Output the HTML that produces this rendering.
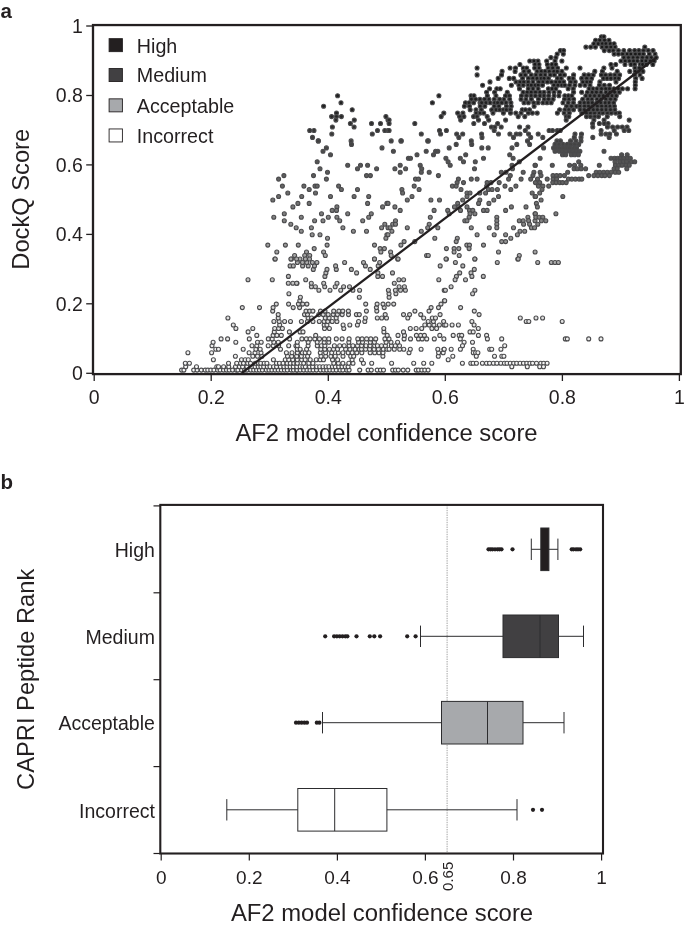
<!DOCTYPE html><html><head><meta charset="utf-8"><title>chart</title><style>html,body{margin:0;padding:0;background:#fff}svg{display:block;filter:blur(0.35px)}text{font-family:"Liberation Sans",sans-serif;fill:#231f20}</style></head><body>
<svg width="685" height="929" viewBox="0 0 685 929">
<rect width="685" height="929" fill="#fff"/>
<text x="0.5" y="17.8" font-size="20.5" font-weight="bold">a</text>
<text x="0.5" y="488.5" font-size="20.5" font-weight="bold">b</text>
<g stroke="#4a4a4c" stroke-width="1.1">
<circle cx="337.6" cy="95.8" r="2.00" fill="#1e1e1e"/>
<circle cx="341.0" cy="102.7" r="2.00" fill="#202020"/>
<circle cx="323.6" cy="106.2" r="2.00" fill="#202020"/>
<circle cx="352.2" cy="109.7" r="2.00" fill="#212121"/>
<circle cx="336.5" cy="113.1" r="2.00" fill="#222222"/>
<circle cx="331.6" cy="116.6" r="2.00" fill="#262626"/>
<circle cx="336.5" cy="116.6" r="2.00" fill="#262626"/>
<circle cx="341.4" cy="116.6" r="2.00" fill="#262626"/>
<circle cx="335.9" cy="120.1" r="2.00" fill="#2a2a2a"/>
<circle cx="354.3" cy="120.1" r="2.00" fill="#2a2a2a"/>
<circle cx="350.4" cy="123.5" r="2.00" fill="#2d2d2d"/>
<circle cx="354.1" cy="127.0" r="2.00" fill="#313131"/>
<circle cx="332.4" cy="127.0" r="2.00" fill="#313131"/>
<circle cx="309.7" cy="130.5" r="2.00" fill="#353535"/>
<circle cx="314.0" cy="130.5" r="2.00" fill="#353535"/>
<circle cx="331.8" cy="134.0" r="2.00" fill="#393939"/>
<circle cx="312.5" cy="137.4" r="2.00" fill="#3d3d3d"/>
<circle cx="318.3" cy="140.9" r="2.00" fill="#414141"/>
<circle cx="351.1" cy="140.9" r="2.00" fill="#414141"/>
<circle cx="371.5" cy="123.5" r="2.00" fill="#2d2d2d"/>
<circle cx="380.5" cy="123.5" r="2.00" fill="#2d2d2d"/>
<circle cx="385.9" cy="116.6" r="2.00" fill="#262626"/>
<circle cx="388.0" cy="120.1" r="2.00" fill="#2a2a2a"/>
<circle cx="377.5" cy="130.5" r="2.00" fill="#353535"/>
<circle cx="372.3" cy="134.0" r="2.00" fill="#393939"/>
<circle cx="384.8" cy="130.5" r="2.00" fill="#353535"/>
<circle cx="388.0" cy="130.5" r="2.00" fill="#353535"/>
<circle cx="477.1" cy="68.0" r="2.00" fill="#1a1a1a"/>
<circle cx="477.1" cy="74.9" r="2.00" fill="#1a1a1a"/>
<circle cx="438.9" cy="95.8" r="2.00" fill="#1e1e1e"/>
<circle cx="432.4" cy="102.7" r="2.00" fill="#202020"/>
<circle cx="443.8" cy="113.1" r="2.00" fill="#222222"/>
<circle cx="441.2" cy="116.6" r="2.00" fill="#262626"/>
<circle cx="414.8" cy="123.5" r="2.00" fill="#2d2d2d"/>
<circle cx="421.3" cy="134.0" r="2.00" fill="#393939"/>
<circle cx="439.5" cy="130.5" r="2.00" fill="#353535"/>
<circle cx="446.4" cy="130.5" r="2.00" fill="#353535"/>
<circle cx="440.6" cy="134.0" r="2.00" fill="#393939"/>
<circle cx="389.1" cy="120.1" r="2.00" fill="#2a2a2a"/>
<circle cx="389.1" cy="123.5" r="2.00" fill="#2d2d2d"/>
<circle cx="389.1" cy="130.5" r="2.00" fill="#353535"/>
<circle cx="391.2" cy="140.9" r="2.00" fill="#414141"/>
<circle cx="400.9" cy="140.9" r="2.00" fill="#414141"/>
<circle cx="428.3" cy="140.9" r="2.00" fill="#414141"/>
<circle cx="456.7" cy="134.0" r="2.00" fill="#393939"/>
<circle cx="462.7" cy="134.0" r="2.00" fill="#393939"/>
<circle cx="458.8" cy="137.4" r="2.00" fill="#3d3d3d"/>
<circle cx="471.3" cy="140.9" r="2.00" fill="#414141"/>
<circle cx="481.6" cy="134.0" r="2.00" fill="#393939"/>
<circle cx="482.0" cy="137.4" r="2.00" fill="#3d3d3d"/>
<circle cx="494.2" cy="130.5" r="2.00" fill="#353535"/>
<circle cx="498.5" cy="134.0" r="2.00" fill="#393939"/>
<circle cx="509.9" cy="134.0" r="2.00" fill="#393939"/>
<circle cx="513.5" cy="137.4" r="2.00" fill="#3d3d3d"/>
<circle cx="516.3" cy="134.0" r="2.00" fill="#393939"/>
<circle cx="520.0" cy="134.0" r="2.00" fill="#393939"/>
<circle cx="525.3" cy="130.5" r="2.00" fill="#353535"/>
<circle cx="528.6" cy="134.0" r="2.00" fill="#393939"/>
<circle cx="530.7" cy="137.4" r="2.00" fill="#3d3d3d"/>
<circle cx="527.5" cy="140.9" r="2.00" fill="#414141"/>
<circle cx="471.0" cy="95.8" r="2.00" fill="#1e1e1e"/>
<circle cx="474.0" cy="95.8" r="2.00" fill="#1e1e1e"/>
<circle cx="471.4" cy="99.2" r="2.00" fill="#1f1f1f"/>
<circle cx="475.6" cy="99.2" r="2.00" fill="#1f1f1f"/>
<circle cx="465.5" cy="102.7" r="2.00" fill="#202020"/>
<circle cx="469.1" cy="102.7" r="2.00" fill="#202020"/>
<circle cx="473.6" cy="102.7" r="2.00" fill="#202020"/>
<circle cx="480.0" cy="102.7" r="2.00" fill="#202020"/>
<circle cx="464.4" cy="106.2" r="2.00" fill="#202020"/>
<circle cx="469.5" cy="106.2" r="2.00" fill="#202020"/>
<circle cx="470.2" cy="109.7" r="2.00" fill="#212121"/>
<circle cx="476.0" cy="109.7" r="2.00" fill="#212121"/>
<circle cx="457.7" cy="113.1" r="2.00" fill="#222222"/>
<circle cx="462.9" cy="113.1" r="2.00" fill="#222222"/>
<circle cx="476.1" cy="113.1" r="2.00" fill="#222222"/>
<circle cx="459.6" cy="116.6" r="2.00" fill="#262626"/>
<circle cx="463.9" cy="116.6" r="2.00" fill="#262626"/>
<circle cx="473.6" cy="116.6" r="2.00" fill="#262626"/>
<circle cx="477.1" cy="116.6" r="2.00" fill="#262626"/>
<circle cx="460.7" cy="120.1" r="2.00" fill="#2a2a2a"/>
<circle cx="478.5" cy="120.1" r="2.00" fill="#2a2a2a"/>
<circle cx="473.8" cy="123.5" r="2.00" fill="#2d2d2d"/>
<circle cx="560.4" cy="50.6" r="2.00" fill="#191919"/>
<circle cx="563.6" cy="50.6" r="2.00" fill="#191919"/>
<circle cx="581.8" cy="113.1" r="2.00" fill="#222222"/>
<circle cx="586.5" cy="113.1" r="2.00" fill="#222222"/>
<circle cx="590.4" cy="113.1" r="2.00" fill="#222222"/>
<circle cx="594.5" cy="113.1" r="2.00" fill="#222222"/>
<circle cx="599.1" cy="113.1" r="2.00" fill="#222222"/>
<circle cx="602.7" cy="113.1" r="2.00" fill="#222222"/>
<circle cx="607.4" cy="113.1" r="2.00" fill="#222222"/>
<circle cx="611.3" cy="113.1" r="2.00" fill="#222222"/>
<circle cx="615.7" cy="113.1" r="2.00" fill="#222222"/>
<circle cx="619.3" cy="113.1" r="2.00" fill="#222222"/>
<circle cx="586.5" cy="116.6" r="2.00" fill="#262626"/>
<circle cx="590.4" cy="116.6" r="2.00" fill="#262626"/>
<circle cx="594.7" cy="116.6" r="2.00" fill="#262626"/>
<circle cx="598.5" cy="116.6" r="2.00" fill="#262626"/>
<circle cx="607.3" cy="116.6" r="2.00" fill="#262626"/>
<circle cx="619.7" cy="116.6" r="2.00" fill="#262626"/>
<circle cx="593.9" cy="120.1" r="2.00" fill="#2a2a2a"/>
<circle cx="604.1" cy="120.1" r="2.00" fill="#2a2a2a"/>
<circle cx="629.2" cy="120.1" r="2.00" fill="#2a2a2a"/>
<circle cx="592.6" cy="123.5" r="2.00" fill="#2d2d2d"/>
<circle cx="599.4" cy="123.5" r="2.00" fill="#2d2d2d"/>
<circle cx="604.4" cy="123.5" r="2.00" fill="#2d2d2d"/>
<circle cx="608.1" cy="123.5" r="2.00" fill="#2d2d2d"/>
<circle cx="592.8" cy="127.0" r="2.00" fill="#313131"/>
<circle cx="607.5" cy="127.0" r="2.00" fill="#313131"/>
<circle cx="612.6" cy="127.0" r="2.00" fill="#313131"/>
<circle cx="617.6" cy="127.0" r="2.00" fill="#313131"/>
<circle cx="622.3" cy="127.0" r="2.00" fill="#313131"/>
<circle cx="627.1" cy="127.0" r="2.00" fill="#313131"/>
<circle cx="549.1" cy="130.5" r="2.00" fill="#353535"/>
<circle cx="552.5" cy="130.5" r="2.00" fill="#353535"/>
<circle cx="557.3" cy="130.5" r="2.00" fill="#353535"/>
<circle cx="560.3" cy="130.5" r="2.00" fill="#353535"/>
<circle cx="601.1" cy="130.5" r="2.00" fill="#353535"/>
<circle cx="614.2" cy="130.5" r="2.00" fill="#353535"/>
<circle cx="624.2" cy="130.5" r="2.00" fill="#353535"/>
<circle cx="628.8" cy="130.5" r="2.00" fill="#353535"/>
<circle cx="538.2" cy="134.0" r="2.00" fill="#393939"/>
<circle cx="575.0" cy="134.0" r="2.00" fill="#393939"/>
<circle cx="581.5" cy="134.0" r="2.00" fill="#393939"/>
<circle cx="601.1" cy="134.0" r="2.00" fill="#393939"/>
<circle cx="605.9" cy="134.0" r="2.00" fill="#393939"/>
<circle cx="609.7" cy="134.0" r="2.00" fill="#393939"/>
<circle cx="616.4" cy="134.0" r="2.00" fill="#393939"/>
<circle cx="542.8" cy="137.4" r="2.00" fill="#3d3d3d"/>
<circle cx="574.3" cy="137.4" r="2.00" fill="#3d3d3d"/>
<circle cx="581.0" cy="137.4" r="2.00" fill="#3d3d3d"/>
<circle cx="592.8" cy="137.4" r="2.00" fill="#3d3d3d"/>
<circle cx="609.2" cy="137.4" r="2.00" fill="#3d3d3d"/>
<circle cx="556.9" cy="140.9" r="2.00" fill="#414141"/>
<circle cx="560.4" cy="140.9" r="2.00" fill="#414141"/>
<circle cx="570.6" cy="140.9" r="2.00" fill="#414141"/>
<circle cx="575.8" cy="140.9" r="2.00" fill="#414141"/>
<circle cx="581.0" cy="140.9" r="2.00" fill="#414141"/>
<circle cx="318.3" cy="140.9" r="2.00" fill="#414141"/>
<circle cx="326.4" cy="147.9" r="2.00" fill="#484848"/>
<circle cx="323.0" cy="151.3" r="2.00" fill="#4c4c4c"/>
<circle cx="330.5" cy="154.8" r="2.00" fill="#4f4f4f"/>
<circle cx="351.5" cy="144.4" r="2.00" fill="#444444"/>
<circle cx="382.0" cy="147.9" r="2.00" fill="#484848"/>
<circle cx="317.2" cy="161.7" r="2.00" fill="#545454"/>
<circle cx="320.0" cy="168.7" r="2.00" fill="#595959"/>
<circle cx="327.5" cy="172.2" r="2.00" fill="#5b5b5b"/>
<circle cx="313.5" cy="175.6" r="2.00" fill="#5e5e5e"/>
<circle cx="326.4" cy="179.1" r="2.00" fill="#616161"/>
<circle cx="347.7" cy="165.2" r="2.00" fill="#565656"/>
<circle cx="360.5" cy="165.2" r="2.00" fill="#565656"/>
<circle cx="357.5" cy="168.7" r="2.00" fill="#595959"/>
<circle cx="367.6" cy="165.2" r="2.00" fill="#565656"/>
<circle cx="376.6" cy="168.7" r="2.00" fill="#595959"/>
<circle cx="366.5" cy="175.6" r="2.00" fill="#5e5e5e"/>
<circle cx="370.4" cy="175.6" r="2.00" fill="#5e5e5e"/>
<circle cx="283.9" cy="175.6" r="2.00" fill="#5e5e5e"/>
<circle cx="278.6" cy="179.1" r="2.00" fill="#616161"/>
<circle cx="282.4" cy="186.1" r="2.00" fill="#666666"/>
<circle cx="287.8" cy="193.0" r="2.00" fill="#6b6b6b"/>
<circle cx="278.6" cy="196.5" r="2.00" fill="#6d6d6d"/>
<circle cx="272.8" cy="200.0" r="2.00" fill="#707070"/>
<circle cx="303.9" cy="186.1" r="2.00" fill="#666666"/>
<circle cx="309.2" cy="189.5" r="2.00" fill="#686868"/>
<circle cx="315.0" cy="186.1" r="2.00" fill="#666666"/>
<circle cx="317.2" cy="186.1" r="2.00" fill="#666666"/>
<circle cx="315.5" cy="193.0" r="2.00" fill="#6b6b6b"/>
<circle cx="301.7" cy="196.5" r="2.00" fill="#6d6d6d"/>
<circle cx="297.9" cy="203.4" r="2.00" fill="#737373"/>
<circle cx="292.9" cy="206.9" r="2.00" fill="#767676"/>
<circle cx="309.2" cy="203.4" r="2.00" fill="#737373"/>
<circle cx="338.6" cy="186.1" r="2.00" fill="#666666"/>
<circle cx="341.4" cy="189.5" r="2.00" fill="#686868"/>
<circle cx="357.5" cy="189.5" r="2.00" fill="#686868"/>
<circle cx="330.5" cy="196.5" r="2.00" fill="#6d6d6d"/>
<circle cx="354.1" cy="196.5" r="2.00" fill="#6d6d6d"/>
<circle cx="368.7" cy="196.5" r="2.00" fill="#6d6d6d"/>
<circle cx="367.6" cy="203.4" r="2.00" fill="#737373"/>
<circle cx="386.9" cy="203.4" r="2.00" fill="#737373"/>
<circle cx="382.6" cy="206.9" r="2.00" fill="#767676"/>
<circle cx="336.9" cy="206.9" r="2.00" fill="#767676"/>
<circle cx="332.2" cy="210.4" r="2.00" fill="#7a7a7a"/>
<circle cx="336.5" cy="210.4" r="2.00" fill="#7a7a7a"/>
<circle cx="347.7" cy="213.8" r="2.00" fill="#7d7d7d"/>
<circle cx="371.3" cy="213.8" r="2.00" fill="#7d7d7d"/>
<circle cx="368.7" cy="217.3" r="2.00" fill="#808080"/>
<circle cx="362.7" cy="220.8" r="2.00" fill="#838383"/>
<circle cx="321.5" cy="213.8" r="2.00" fill="#7d7d7d"/>
<circle cx="328.3" cy="217.3" r="2.00" fill="#808080"/>
<circle cx="336.9" cy="217.3" r="2.00" fill="#808080"/>
<circle cx="339.7" cy="220.8" r="2.00" fill="#838383"/>
<circle cx="314.6" cy="220.8" r="2.00" fill="#838383"/>
<circle cx="323.0" cy="220.8" r="2.00" fill="#838383"/>
<circle cx="284.3" cy="213.8" r="2.00" fill="#7d7d7d"/>
<circle cx="273.8" cy="217.3" r="2.00" fill="#808080"/>
<circle cx="284.3" cy="220.8" r="2.00" fill="#838383"/>
<circle cx="301.3" cy="217.3" r="2.00" fill="#808080"/>
<circle cx="290.8" cy="224.3" r="2.00" fill="#868686"/>
<circle cx="296.2" cy="227.7" r="2.00" fill="#898989"/>
<circle cx="301.3" cy="231.2" r="2.00" fill="#8c8c8c"/>
<circle cx="311.4" cy="227.7" r="2.00" fill="#898989"/>
<circle cx="312.2" cy="234.7" r="2.00" fill="#909090"/>
<circle cx="320.0" cy="234.7" r="2.00" fill="#909090"/>
<circle cx="327.5" cy="238.2" r="2.00" fill="#939393"/>
<circle cx="342.9" cy="227.7" r="2.00" fill="#898989"/>
<circle cx="353.4" cy="231.2" r="2.00" fill="#8c8c8c"/>
<circle cx="366.5" cy="231.2" r="2.00" fill="#8c8c8c"/>
<circle cx="384.8" cy="224.3" r="2.00" fill="#868686"/>
<circle cx="381.6" cy="227.7" r="2.00" fill="#898989"/>
<circle cx="388.0" cy="227.7" r="2.00" fill="#898989"/>
<circle cx="386.9" cy="234.7" r="2.00" fill="#909090"/>
<circle cx="385.9" cy="238.2" r="2.00" fill="#939393"/>
<circle cx="267.8" cy="245.1" r="2.00" fill="#9a9a9a"/>
<circle cx="285.4" cy="245.1" r="2.00" fill="#9a9a9a"/>
<circle cx="298.3" cy="245.1" r="2.00" fill="#9a9a9a"/>
<circle cx="327.1" cy="245.1" r="2.00" fill="#9a9a9a"/>
<circle cx="314.2" cy="248.6" r="2.00" fill="#9e9e9e"/>
<circle cx="374.5" cy="245.1" r="2.00" fill="#9a9a9a"/>
<circle cx="380.1" cy="248.6" r="2.00" fill="#9e9e9e"/>
<circle cx="384.4" cy="248.6" r="2.00" fill="#9e9e9e"/>
<circle cx="380.9" cy="252.0" r="2.00" fill="#a2a2a2"/>
<circle cx="276.8" cy="252.0" r="2.00" fill="#a2a2a2"/>
<circle cx="306.5" cy="252.0" r="2.00" fill="#a2a2a2"/>
<circle cx="323.6" cy="252.0" r="2.00" fill="#a2a2a2"/>
<circle cx="294.6" cy="255.5" r="2.00" fill="#a6a6a6"/>
<circle cx="304.7" cy="255.5" r="2.00" fill="#a6a6a6"/>
<circle cx="309.7" cy="255.5" r="2.00" fill="#a6a6a6"/>
<circle cx="325.3" cy="255.5" r="2.00" fill="#a6a6a6"/>
<circle cx="274.9" cy="259.0" r="2.00" fill="#aaaaaa"/>
<circle cx="291.4" cy="259.0" r="2.00" fill="#aaaaaa"/>
<circle cx="300.0" cy="259.0" r="2.00" fill="#aaaaaa"/>
<circle cx="374.5" cy="259.0" r="2.00" fill="#aaaaaa"/>
<circle cx="401.3" cy="140.9" r="2.00" fill="#414141"/>
<circle cx="427.7" cy="140.9" r="2.00" fill="#414141"/>
<circle cx="456.2" cy="144.4" r="2.00" fill="#444444"/>
<circle cx="471.7" cy="144.4" r="2.00" fill="#444444"/>
<circle cx="516.8" cy="144.4" r="2.00" fill="#444444"/>
<circle cx="529.6" cy="144.4" r="2.00" fill="#444444"/>
<circle cx="449.2" cy="147.9" r="2.00" fill="#484848"/>
<circle cx="481.8" cy="147.9" r="2.00" fill="#484848"/>
<circle cx="488.2" cy="147.9" r="2.00" fill="#484848"/>
<circle cx="512.0" cy="147.9" r="2.00" fill="#484848"/>
<circle cx="393.4" cy="151.3" r="2.00" fill="#4c4c4c"/>
<circle cx="426.2" cy="151.3" r="2.00" fill="#4c4c4c"/>
<circle cx="435.6" cy="151.3" r="2.00" fill="#4c4c4c"/>
<circle cx="437.8" cy="151.3" r="2.00" fill="#4c4c4c"/>
<circle cx="417.0" cy="154.8" r="2.00" fill="#4f4f4f"/>
<circle cx="433.5" cy="154.8" r="2.00" fill="#4f4f4f"/>
<circle cx="465.7" cy="154.8" r="2.00" fill="#4f4f4f"/>
<circle cx="509.7" cy="154.8" r="2.00" fill="#4f4f4f"/>
<circle cx="408.4" cy="158.3" r="2.00" fill="#515151"/>
<circle cx="410.5" cy="158.3" r="2.00" fill="#515151"/>
<circle cx="445.9" cy="158.3" r="2.00" fill="#515151"/>
<circle cx="460.3" cy="158.3" r="2.00" fill="#515151"/>
<circle cx="483.5" cy="158.3" r="2.00" fill="#515151"/>
<circle cx="513.1" cy="158.3" r="2.00" fill="#515151"/>
<circle cx="448.1" cy="161.7" r="2.00" fill="#545454"/>
<circle cx="463.5" cy="161.7" r="2.00" fill="#545454"/>
<circle cx="475.3" cy="161.7" r="2.00" fill="#545454"/>
<circle cx="519.3" cy="161.7" r="2.00" fill="#545454"/>
<circle cx="400.2" cy="165.2" r="2.00" fill="#565656"/>
<circle cx="420.2" cy="165.2" r="2.00" fill="#565656"/>
<circle cx="450.2" cy="165.2" r="2.00" fill="#565656"/>
<circle cx="512.0" cy="165.2" r="2.00" fill="#565656"/>
<circle cx="535.0" cy="165.2" r="2.00" fill="#565656"/>
<circle cx="394.9" cy="168.7" r="2.00" fill="#595959"/>
<circle cx="405.6" cy="168.7" r="2.00" fill="#595959"/>
<circle cx="421.7" cy="168.7" r="2.00" fill="#595959"/>
<circle cx="474.5" cy="168.7" r="2.00" fill="#595959"/>
<circle cx="512.5" cy="168.7" r="2.00" fill="#595959"/>
<circle cx="400.2" cy="172.2" r="2.00" fill="#5b5b5b"/>
<circle cx="421.3" cy="172.2" r="2.00" fill="#5b5b5b"/>
<circle cx="429.2" cy="172.2" r="2.00" fill="#5b5b5b"/>
<circle cx="501.3" cy="172.2" r="2.00" fill="#5b5b5b"/>
<circle cx="506.0" cy="172.2" r="2.00" fill="#5b5b5b"/>
<circle cx="523.2" cy="172.2" r="2.00" fill="#5b5b5b"/>
<circle cx="533.9" cy="172.2" r="2.00" fill="#5b5b5b"/>
<circle cx="438.4" cy="175.6" r="2.00" fill="#5e5e5e"/>
<circle cx="510.3" cy="175.6" r="2.00" fill="#5e5e5e"/>
<circle cx="532.9" cy="175.6" r="2.00" fill="#5e5e5e"/>
<circle cx="415.5" cy="179.1" r="2.00" fill="#616161"/>
<circle cx="418.5" cy="179.1" r="2.00" fill="#616161"/>
<circle cx="458.4" cy="179.1" r="2.00" fill="#616161"/>
<circle cx="471.3" cy="179.1" r="2.00" fill="#616161"/>
<circle cx="477.1" cy="179.1" r="2.00" fill="#616161"/>
<circle cx="508.6" cy="179.1" r="2.00" fill="#616161"/>
<circle cx="521.1" cy="179.1" r="2.00" fill="#616161"/>
<circle cx="530.7" cy="179.1" r="2.00" fill="#616161"/>
<circle cx="457.1" cy="182.6" r="2.00" fill="#636363"/>
<circle cx="463.5" cy="182.6" r="2.00" fill="#636363"/>
<circle cx="487.1" cy="182.6" r="2.00" fill="#636363"/>
<circle cx="491.0" cy="182.6" r="2.00" fill="#636363"/>
<circle cx="499.2" cy="182.6" r="2.00" fill="#636363"/>
<circle cx="414.2" cy="186.1" r="2.00" fill="#666666"/>
<circle cx="452.4" cy="186.1" r="2.00" fill="#666666"/>
<circle cx="456.2" cy="186.1" r="2.00" fill="#666666"/>
<circle cx="486.7" cy="186.1" r="2.00" fill="#666666"/>
<circle cx="505.0" cy="186.1" r="2.00" fill="#666666"/>
<circle cx="515.9" cy="186.1" r="2.00" fill="#666666"/>
<circle cx="401.9" cy="189.5" r="2.00" fill="#686868"/>
<circle cx="419.1" cy="189.5" r="2.00" fill="#686868"/>
<circle cx="461.0" cy="189.5" r="2.00" fill="#686868"/>
<circle cx="488.4" cy="189.5" r="2.00" fill="#686868"/>
<circle cx="492.1" cy="189.5" r="2.00" fill="#686868"/>
<circle cx="497.4" cy="189.5" r="2.00" fill="#686868"/>
<circle cx="510.8" cy="189.5" r="2.00" fill="#686868"/>
<circle cx="402.6" cy="193.0" r="2.00" fill="#6b6b6b"/>
<circle cx="467.0" cy="193.0" r="2.00" fill="#6b6b6b"/>
<circle cx="470.0" cy="193.0" r="2.00" fill="#6b6b6b"/>
<circle cx="479.8" cy="193.0" r="2.00" fill="#6b6b6b"/>
<circle cx="485.6" cy="193.0" r="2.00" fill="#6b6b6b"/>
<circle cx="532.2" cy="193.0" r="2.00" fill="#6b6b6b"/>
<circle cx="412.0" cy="196.5" r="2.00" fill="#6d6d6d"/>
<circle cx="467.0" cy="196.5" r="2.00" fill="#6d6d6d"/>
<circle cx="498.5" cy="196.5" r="2.00" fill="#6d6d6d"/>
<circle cx="535.0" cy="196.5" r="2.00" fill="#6d6d6d"/>
<circle cx="407.3" cy="200.0" r="2.00" fill="#707070"/>
<circle cx="430.9" cy="200.0" r="2.00" fill="#707070"/>
<circle cx="439.5" cy="200.0" r="2.00" fill="#707070"/>
<circle cx="462.7" cy="200.0" r="2.00" fill="#707070"/>
<circle cx="479.8" cy="200.0" r="2.00" fill="#707070"/>
<circle cx="493.8" cy="200.0" r="2.00" fill="#707070"/>
<circle cx="388.0" cy="203.4" r="2.00" fill="#737373"/>
<circle cx="457.7" cy="203.4" r="2.00" fill="#737373"/>
<circle cx="478.6" cy="203.4" r="2.00" fill="#737373"/>
<circle cx="488.9" cy="203.4" r="2.00" fill="#737373"/>
<circle cx="394.9" cy="206.9" r="2.00" fill="#767676"/>
<circle cx="454.5" cy="206.9" r="2.00" fill="#767676"/>
<circle cx="458.8" cy="206.9" r="2.00" fill="#767676"/>
<circle cx="467.0" cy="206.9" r="2.00" fill="#767676"/>
<circle cx="511.4" cy="206.9" r="2.00" fill="#767676"/>
<circle cx="526.0" cy="206.9" r="2.00" fill="#767676"/>
<circle cx="400.2" cy="210.4" r="2.00" fill="#7a7a7a"/>
<circle cx="434.1" cy="210.4" r="2.00" fill="#7a7a7a"/>
<circle cx="447.7" cy="210.4" r="2.00" fill="#7a7a7a"/>
<circle cx="460.5" cy="210.4" r="2.00" fill="#7a7a7a"/>
<circle cx="469.5" cy="210.4" r="2.00" fill="#7a7a7a"/>
<circle cx="472.8" cy="210.4" r="2.00" fill="#7a7a7a"/>
<circle cx="483.5" cy="210.4" r="2.00" fill="#7a7a7a"/>
<circle cx="487.1" cy="210.4" r="2.00" fill="#7a7a7a"/>
<circle cx="505.6" cy="210.4" r="2.00" fill="#7a7a7a"/>
<circle cx="449.2" cy="213.8" r="2.00" fill="#7d7d7d"/>
<circle cx="470.0" cy="213.8" r="2.00" fill="#7d7d7d"/>
<circle cx="474.9" cy="213.8" r="2.00" fill="#7d7d7d"/>
<circle cx="535.0" cy="213.8" r="2.00" fill="#7d7d7d"/>
<circle cx="430.3" cy="217.3" r="2.00" fill="#808080"/>
<circle cx="469.1" cy="217.3" r="2.00" fill="#808080"/>
<circle cx="496.8" cy="217.3" r="2.00" fill="#808080"/>
<circle cx="527.9" cy="217.3" r="2.00" fill="#808080"/>
<circle cx="395.5" cy="220.8" r="2.00" fill="#838383"/>
<circle cx="464.8" cy="220.8" r="2.00" fill="#838383"/>
<circle cx="467.0" cy="220.8" r="2.00" fill="#838383"/>
<circle cx="496.8" cy="220.8" r="2.00" fill="#838383"/>
<circle cx="519.3" cy="220.8" r="2.00" fill="#838383"/>
<circle cx="523.2" cy="220.8" r="2.00" fill="#838383"/>
<circle cx="528.6" cy="220.8" r="2.00" fill="#838383"/>
<circle cx="535.0" cy="220.8" r="2.00" fill="#838383"/>
<circle cx="392.7" cy="224.3" r="2.00" fill="#868686"/>
<circle cx="395.5" cy="224.3" r="2.00" fill="#868686"/>
<circle cx="429.2" cy="224.3" r="2.00" fill="#868686"/>
<circle cx="496.8" cy="224.3" r="2.00" fill="#868686"/>
<circle cx="523.6" cy="224.3" r="2.00" fill="#868686"/>
<circle cx="529.6" cy="224.3" r="2.00" fill="#868686"/>
<circle cx="390.1" cy="227.7" r="2.00" fill="#898989"/>
<circle cx="407.3" cy="227.7" r="2.00" fill="#898989"/>
<circle cx="427.7" cy="227.7" r="2.00" fill="#898989"/>
<circle cx="437.8" cy="227.7" r="2.00" fill="#898989"/>
<circle cx="471.3" cy="227.7" r="2.00" fill="#898989"/>
<circle cx="489.3" cy="227.7" r="2.00" fill="#898989"/>
<circle cx="496.8" cy="227.7" r="2.00" fill="#898989"/>
<circle cx="513.5" cy="227.7" r="2.00" fill="#898989"/>
<circle cx="531.4" cy="227.7" r="2.00" fill="#898989"/>
<circle cx="391.9" cy="231.2" r="2.00" fill="#8c8c8c"/>
<circle cx="421.3" cy="231.2" r="2.00" fill="#8c8c8c"/>
<circle cx="520.0" cy="231.2" r="2.00" fill="#8c8c8c"/>
<circle cx="524.7" cy="231.2" r="2.00" fill="#8c8c8c"/>
<circle cx="388.0" cy="234.7" r="2.00" fill="#909090"/>
<circle cx="477.1" cy="234.7" r="2.00" fill="#909090"/>
<circle cx="494.2" cy="234.7" r="2.00" fill="#909090"/>
<circle cx="505.6" cy="234.7" r="2.00" fill="#909090"/>
<circle cx="517.4" cy="234.7" r="2.00" fill="#909090"/>
<circle cx="434.8" cy="238.2" r="2.00" fill="#939393"/>
<circle cx="457.3" cy="238.2" r="2.00" fill="#939393"/>
<circle cx="510.8" cy="238.2" r="2.00" fill="#939393"/>
<circle cx="404.1" cy="241.6" r="2.00" fill="#969696"/>
<circle cx="414.8" cy="241.6" r="2.00" fill="#969696"/>
<circle cx="456.2" cy="241.6" r="2.00" fill="#969696"/>
<circle cx="501.7" cy="241.6" r="2.00" fill="#969696"/>
<circle cx="505.6" cy="241.6" r="2.00" fill="#969696"/>
<circle cx="400.9" cy="245.1" r="2.00" fill="#9a9a9a"/>
<circle cx="466.8" cy="245.1" r="2.00" fill="#9a9a9a"/>
<circle cx="469.5" cy="245.1" r="2.00" fill="#9a9a9a"/>
<circle cx="483.5" cy="245.1" r="2.00" fill="#9a9a9a"/>
<circle cx="446.4" cy="248.6" r="2.00" fill="#9e9e9e"/>
<circle cx="454.1" cy="248.6" r="2.00" fill="#9e9e9e"/>
<circle cx="458.8" cy="248.6" r="2.00" fill="#9e9e9e"/>
<circle cx="469.1" cy="248.6" r="2.00" fill="#9e9e9e"/>
<circle cx="390.6" cy="252.0" r="2.00" fill="#a2a2a2"/>
<circle cx="454.1" cy="252.0" r="2.00" fill="#a2a2a2"/>
<circle cx="498.5" cy="252.0" r="2.00" fill="#a2a2a2"/>
<circle cx="391.2" cy="255.5" r="2.00" fill="#a6a6a6"/>
<circle cx="426.6" cy="255.5" r="2.00" fill="#a6a6a6"/>
<circle cx="428.3" cy="255.5" r="2.00" fill="#a6a6a6"/>
<circle cx="459.2" cy="255.5" r="2.00" fill="#a6a6a6"/>
<circle cx="519.3" cy="255.5" r="2.00" fill="#a6a6a6"/>
<circle cx="397.7" cy="259.0" r="2.00" fill="#aaaaaa"/>
<circle cx="446.4" cy="259.0" r="2.00" fill="#aaaaaa"/>
<circle cx="474.9" cy="259.0" r="2.00" fill="#aaaaaa"/>
<circle cx="517.8" cy="259.0" r="2.00" fill="#aaaaaa"/>
<circle cx="555.0" cy="144.4" r="2.00" fill="#444444"/>
<circle cx="558.9" cy="144.4" r="2.00" fill="#444444"/>
<circle cx="563.0" cy="144.4" r="2.00" fill="#444444"/>
<circle cx="567.3" cy="144.4" r="2.00" fill="#444444"/>
<circle cx="570.6" cy="144.4" r="2.00" fill="#444444"/>
<circle cx="574.5" cy="144.4" r="2.00" fill="#444444"/>
<circle cx="578.7" cy="144.4" r="2.00" fill="#444444"/>
<circle cx="543.6" cy="147.9" r="2.00" fill="#484848"/>
<circle cx="553.6" cy="147.9" r="2.00" fill="#484848"/>
<circle cx="556.9" cy="147.9" r="2.00" fill="#484848"/>
<circle cx="559.7" cy="147.9" r="2.00" fill="#484848"/>
<circle cx="563.5" cy="147.9" r="2.00" fill="#484848"/>
<circle cx="567.1" cy="147.9" r="2.00" fill="#484848"/>
<circle cx="569.7" cy="147.9" r="2.00" fill="#484848"/>
<circle cx="573.6" cy="147.9" r="2.00" fill="#484848"/>
<circle cx="576.5" cy="147.9" r="2.00" fill="#484848"/>
<circle cx="555.0" cy="151.3" r="2.00" fill="#4c4c4c"/>
<circle cx="559.3" cy="151.3" r="2.00" fill="#4c4c4c"/>
<circle cx="562.3" cy="151.3" r="2.00" fill="#4c4c4c"/>
<circle cx="566.0" cy="151.3" r="2.00" fill="#4c4c4c"/>
<circle cx="569.8" cy="151.3" r="2.00" fill="#4c4c4c"/>
<circle cx="572.9" cy="151.3" r="2.00" fill="#4c4c4c"/>
<circle cx="576.5" cy="151.3" r="2.00" fill="#4c4c4c"/>
<circle cx="579.9" cy="151.3" r="2.00" fill="#4c4c4c"/>
<circle cx="604.0" cy="151.3" r="2.00" fill="#4c4c4c"/>
<circle cx="562.5" cy="154.8" r="2.00" fill="#4f4f4f"/>
<circle cx="565.7" cy="154.8" r="2.00" fill="#4f4f4f"/>
<circle cx="571.3" cy="154.8" r="2.00" fill="#4f4f4f"/>
<circle cx="574.7" cy="154.8" r="2.00" fill="#4f4f4f"/>
<circle cx="578.4" cy="154.8" r="2.00" fill="#4f4f4f"/>
<circle cx="621.6" cy="154.8" r="2.00" fill="#4f4f4f"/>
<circle cx="627.2" cy="154.8" r="2.00" fill="#4f4f4f"/>
<circle cx="540.1" cy="158.3" r="2.00" fill="#515151"/>
<circle cx="611.0" cy="158.3" r="2.00" fill="#515151"/>
<circle cx="614.6" cy="158.3" r="2.00" fill="#515151"/>
<circle cx="617.7" cy="158.3" r="2.00" fill="#515151"/>
<circle cx="620.5" cy="158.3" r="2.00" fill="#515151"/>
<circle cx="623.8" cy="158.3" r="2.00" fill="#515151"/>
<circle cx="627.4" cy="158.3" r="2.00" fill="#515151"/>
<circle cx="630.3" cy="158.3" r="2.00" fill="#515151"/>
<circle cx="578.7" cy="161.7" r="2.00" fill="#545454"/>
<circle cx="615.0" cy="161.7" r="2.00" fill="#545454"/>
<circle cx="619.7" cy="161.7" r="2.00" fill="#545454"/>
<circle cx="623.4" cy="161.7" r="2.00" fill="#545454"/>
<circle cx="626.6" cy="161.7" r="2.00" fill="#545454"/>
<circle cx="631.4" cy="161.7" r="2.00" fill="#545454"/>
<circle cx="634.7" cy="161.7" r="2.00" fill="#545454"/>
<circle cx="535.4" cy="165.2" r="2.00" fill="#565656"/>
<circle cx="552.3" cy="165.2" r="2.00" fill="#565656"/>
<circle cx="569.6" cy="165.2" r="2.00" fill="#565656"/>
<circle cx="574.5" cy="165.2" r="2.00" fill="#565656"/>
<circle cx="580.8" cy="165.2" r="2.00" fill="#565656"/>
<circle cx="599.3" cy="165.2" r="2.00" fill="#565656"/>
<circle cx="615.4" cy="165.2" r="2.00" fill="#565656"/>
<circle cx="618.8" cy="165.2" r="2.00" fill="#565656"/>
<circle cx="622.0" cy="165.2" r="2.00" fill="#565656"/>
<circle cx="626.2" cy="165.2" r="2.00" fill="#565656"/>
<circle cx="629.2" cy="165.2" r="2.00" fill="#565656"/>
<circle cx="574.1" cy="168.7" r="2.00" fill="#595959"/>
<circle cx="577.3" cy="168.7" r="2.00" fill="#595959"/>
<circle cx="581.1" cy="168.7" r="2.00" fill="#595959"/>
<circle cx="585.6" cy="168.7" r="2.00" fill="#595959"/>
<circle cx="614.1" cy="168.7" r="2.00" fill="#595959"/>
<circle cx="617.2" cy="168.7" r="2.00" fill="#595959"/>
<circle cx="626.8" cy="168.7" r="2.00" fill="#595959"/>
<circle cx="540.1" cy="172.2" r="2.00" fill="#5b5b5b"/>
<circle cx="567.7" cy="172.2" r="2.00" fill="#5b5b5b"/>
<circle cx="596.2" cy="172.2" r="2.00" fill="#5b5b5b"/>
<circle cx="599.8" cy="172.2" r="2.00" fill="#5b5b5b"/>
<circle cx="603.7" cy="172.2" r="2.00" fill="#5b5b5b"/>
<circle cx="607.3" cy="172.2" r="2.00" fill="#5b5b5b"/>
<circle cx="611.1" cy="172.2" r="2.00" fill="#5b5b5b"/>
<circle cx="615.3" cy="172.2" r="2.00" fill="#5b5b5b"/>
<circle cx="618.7" cy="172.2" r="2.00" fill="#5b5b5b"/>
<circle cx="541.0" cy="175.6" r="2.00" fill="#5e5e5e"/>
<circle cx="553.0" cy="175.6" r="2.00" fill="#5e5e5e"/>
<circle cx="556.6" cy="175.6" r="2.00" fill="#5e5e5e"/>
<circle cx="560.1" cy="175.6" r="2.00" fill="#5e5e5e"/>
<circle cx="564.4" cy="175.6" r="2.00" fill="#5e5e5e"/>
<circle cx="588.7" cy="175.6" r="2.00" fill="#5e5e5e"/>
<circle cx="593.9" cy="175.6" r="2.00" fill="#5e5e5e"/>
<circle cx="597.9" cy="175.6" r="2.00" fill="#5e5e5e"/>
<circle cx="601.8" cy="175.6" r="2.00" fill="#5e5e5e"/>
<circle cx="604.9" cy="175.6" r="2.00" fill="#5e5e5e"/>
<circle cx="609.4" cy="175.6" r="2.00" fill="#5e5e5e"/>
<circle cx="537.5" cy="179.1" r="2.00" fill="#616161"/>
<circle cx="547.2" cy="179.1" r="2.00" fill="#616161"/>
<circle cx="553.1" cy="179.1" r="2.00" fill="#616161"/>
<circle cx="556.6" cy="179.1" r="2.00" fill="#616161"/>
<circle cx="568.4" cy="179.1" r="2.00" fill="#616161"/>
<circle cx="571.8" cy="179.1" r="2.00" fill="#616161"/>
<circle cx="575.4" cy="179.1" r="2.00" fill="#616161"/>
<circle cx="579.1" cy="179.1" r="2.00" fill="#616161"/>
<circle cx="581.8" cy="179.1" r="2.00" fill="#616161"/>
<circle cx="535.4" cy="182.6" r="2.00" fill="#636363"/>
<circle cx="539.7" cy="182.6" r="2.00" fill="#636363"/>
<circle cx="552.8" cy="182.6" r="2.00" fill="#636363"/>
<circle cx="556.1" cy="182.6" r="2.00" fill="#636363"/>
<circle cx="559.8" cy="182.6" r="2.00" fill="#636363"/>
<circle cx="562.6" cy="182.6" r="2.00" fill="#636363"/>
<circle cx="566.2" cy="182.6" r="2.00" fill="#636363"/>
<circle cx="538.4" cy="186.1" r="2.00" fill="#666666"/>
<circle cx="542.9" cy="186.1" r="2.00" fill="#666666"/>
<circle cx="548.7" cy="186.1" r="2.00" fill="#666666"/>
<circle cx="542.0" cy="189.5" r="2.00" fill="#686868"/>
<circle cx="539.7" cy="193.0" r="2.00" fill="#6b6b6b"/>
<circle cx="535.6" cy="196.5" r="2.00" fill="#6d6d6d"/>
<circle cx="562.8" cy="196.5" r="2.00" fill="#6d6d6d"/>
<circle cx="541.1" cy="200.0" r="2.00" fill="#707070"/>
<circle cx="536.4" cy="203.4" r="2.00" fill="#737373"/>
<circle cx="537.4" cy="206.9" r="2.00" fill="#767676"/>
<circle cx="535.4" cy="213.8" r="2.00" fill="#7d7d7d"/>
<circle cx="555.9" cy="213.8" r="2.00" fill="#7d7d7d"/>
<circle cx="535.8" cy="217.3" r="2.00" fill="#808080"/>
<circle cx="539.1" cy="217.3" r="2.00" fill="#808080"/>
<circle cx="542.8" cy="217.3" r="2.00" fill="#808080"/>
<circle cx="541.4" cy="220.8" r="2.00" fill="#838383"/>
<circle cx="545.8" cy="220.8" r="2.00" fill="#838383"/>
<circle cx="537.8" cy="224.3" r="2.00" fill="#868686"/>
<circle cx="534.6" cy="227.7" r="2.00" fill="#898989"/>
<circle cx="535.1" cy="252.0" r="2.00" fill="#a2a2a2"/>
<circle cx="181.6" cy="370.1" r="2.00" fill="#f9f9f9"/>
<circle cx="183.9" cy="370.1" r="2.00" fill="#f9f9f9"/>
<circle cx="193.7" cy="370.1" r="2.00" fill="#f9f9f9"/>
<circle cx="197.1" cy="370.1" r="2.00" fill="#f9f9f9"/>
<circle cx="201.3" cy="370.1" r="2.00" fill="#f9f9f9"/>
<circle cx="205.2" cy="370.1" r="2.00" fill="#f9f9f9"/>
<circle cx="207.8" cy="370.1" r="2.00" fill="#f9f9f9"/>
<circle cx="210.8" cy="370.1" r="2.00" fill="#f9f9f9"/>
<circle cx="213.9" cy="370.1" r="2.00" fill="#f9f9f9"/>
<circle cx="217.6" cy="370.1" r="2.00" fill="#f9f9f9"/>
<circle cx="220.1" cy="370.1" r="2.00" fill="#f9f9f9"/>
<circle cx="223.5" cy="370.1" r="2.00" fill="#f9f9f9"/>
<circle cx="226.5" cy="370.1" r="2.00" fill="#f9f9f9"/>
<circle cx="229.2" cy="370.1" r="2.00" fill="#f9f9f9"/>
<circle cx="232.6" cy="370.1" r="2.00" fill="#f9f9f9"/>
<circle cx="236.2" cy="370.1" r="2.00" fill="#f9f9f9"/>
<circle cx="237.9" cy="370.1" r="2.00" fill="#f9f9f9"/>
<circle cx="241.6" cy="370.1" r="2.00" fill="#f9f9f9"/>
<circle cx="244.6" cy="370.1" r="2.00" fill="#f9f9f9"/>
<circle cx="247.0" cy="370.1" r="2.00" fill="#f9f9f9"/>
<circle cx="250.8" cy="370.1" r="2.00" fill="#f9f9f9"/>
<circle cx="253.7" cy="370.1" r="2.00" fill="#f9f9f9"/>
<circle cx="256.6" cy="370.1" r="2.00" fill="#f9f9f9"/>
<circle cx="259.4" cy="370.1" r="2.00" fill="#f9f9f9"/>
<circle cx="262.4" cy="370.1" r="2.00" fill="#f9f9f9"/>
<circle cx="266.3" cy="370.1" r="2.00" fill="#f9f9f9"/>
<circle cx="269.0" cy="370.1" r="2.00" fill="#f9f9f9"/>
<circle cx="271.9" cy="370.1" r="2.00" fill="#f9f9f9"/>
<circle cx="275.1" cy="370.1" r="2.00" fill="#f9f9f9"/>
<circle cx="278.2" cy="370.1" r="2.00" fill="#f9f9f9"/>
<circle cx="281.3" cy="370.1" r="2.00" fill="#f9f9f9"/>
<circle cx="284.4" cy="370.1" r="2.00" fill="#f9f9f9"/>
<circle cx="287.3" cy="370.1" r="2.00" fill="#f9f9f9"/>
<circle cx="291.1" cy="370.1" r="2.00" fill="#f9f9f9"/>
<circle cx="293.5" cy="370.1" r="2.00" fill="#f9f9f9"/>
<circle cx="296.9" cy="370.1" r="2.00" fill="#f9f9f9"/>
<circle cx="185.7" cy="366.7" r="2.00" fill="#f7f7f7"/>
<circle cx="196.5" cy="366.7" r="2.00" fill="#f7f7f7"/>
<circle cx="216.8" cy="366.7" r="2.00" fill="#f7f7f7"/>
<circle cx="218.5" cy="366.7" r="2.00" fill="#f7f7f7"/>
<circle cx="223.6" cy="366.7" r="2.00" fill="#f7f7f7"/>
<circle cx="228.7" cy="366.7" r="2.00" fill="#f7f7f7"/>
<circle cx="235.5" cy="366.7" r="2.00" fill="#f7f7f7"/>
<circle cx="239.4" cy="366.7" r="2.00" fill="#f7f7f7"/>
<circle cx="242.6" cy="366.7" r="2.00" fill="#f7f7f7"/>
<circle cx="246.9" cy="366.7" r="2.00" fill="#f7f7f7"/>
<circle cx="255.1" cy="366.7" r="2.00" fill="#f7f7f7"/>
<circle cx="258.2" cy="366.7" r="2.00" fill="#f7f7f7"/>
<circle cx="260.9" cy="366.7" r="2.00" fill="#f7f7f7"/>
<circle cx="263.7" cy="366.7" r="2.00" fill="#f7f7f7"/>
<circle cx="267.3" cy="366.7" r="2.00" fill="#f7f7f7"/>
<circle cx="270.0" cy="366.7" r="2.00" fill="#f7f7f7"/>
<circle cx="273.6" cy="366.7" r="2.00" fill="#f7f7f7"/>
<circle cx="276.6" cy="366.7" r="2.00" fill="#f7f7f7"/>
<circle cx="280.4" cy="366.7" r="2.00" fill="#f7f7f7"/>
<circle cx="283.9" cy="366.7" r="2.00" fill="#f7f7f7"/>
<circle cx="287.0" cy="366.7" r="2.00" fill="#f7f7f7"/>
<circle cx="290.2" cy="366.7" r="2.00" fill="#f7f7f7"/>
<circle cx="293.3" cy="366.7" r="2.00" fill="#f7f7f7"/>
<circle cx="297.5" cy="366.7" r="2.00" fill="#f7f7f7"/>
<circle cx="185.3" cy="363.2" r="2.00" fill="#f6f6f6"/>
<circle cx="189.4" cy="363.2" r="2.00" fill="#f6f6f6"/>
<circle cx="228.5" cy="363.2" r="2.00" fill="#f6f6f6"/>
<circle cx="236.7" cy="363.2" r="2.00" fill="#f6f6f6"/>
<circle cx="240.6" cy="363.2" r="2.00" fill="#f6f6f6"/>
<circle cx="243.5" cy="363.2" r="2.00" fill="#f6f6f6"/>
<circle cx="247.7" cy="363.2" r="2.00" fill="#f6f6f6"/>
<circle cx="250.5" cy="363.2" r="2.00" fill="#f6f6f6"/>
<circle cx="255.2" cy="363.2" r="2.00" fill="#f6f6f6"/>
<circle cx="258.5" cy="363.2" r="2.00" fill="#f6f6f6"/>
<circle cx="260.7" cy="363.2" r="2.00" fill="#f6f6f6"/>
<circle cx="264.2" cy="363.2" r="2.00" fill="#f6f6f6"/>
<circle cx="266.9" cy="363.2" r="2.00" fill="#f6f6f6"/>
<circle cx="276.5" cy="363.2" r="2.00" fill="#f6f6f6"/>
<circle cx="279.5" cy="363.2" r="2.00" fill="#f6f6f6"/>
<circle cx="283.1" cy="363.2" r="2.00" fill="#f6f6f6"/>
<circle cx="287.1" cy="363.2" r="2.00" fill="#f6f6f6"/>
<circle cx="290.3" cy="363.2" r="2.00" fill="#f6f6f6"/>
<circle cx="293.8" cy="363.2" r="2.00" fill="#f6f6f6"/>
<circle cx="296.8" cy="363.2" r="2.00" fill="#f6f6f6"/>
<circle cx="213.4" cy="359.7" r="2.00" fill="#f4f4f4"/>
<circle cx="241.5" cy="359.7" r="2.00" fill="#f4f4f4"/>
<circle cx="245.2" cy="359.7" r="2.00" fill="#f4f4f4"/>
<circle cx="248.3" cy="359.7" r="2.00" fill="#f4f4f4"/>
<circle cx="273.4" cy="359.7" r="2.00" fill="#f4f4f4"/>
<circle cx="285.3" cy="359.7" r="2.00" fill="#f4f4f4"/>
<circle cx="288.8" cy="359.7" r="2.00" fill="#f4f4f4"/>
<circle cx="292.8" cy="359.7" r="2.00" fill="#f4f4f4"/>
<circle cx="297.1" cy="359.7" r="2.00" fill="#f4f4f4"/>
<circle cx="235.4" cy="356.2" r="2.00" fill="#f3f3f3"/>
<circle cx="252.8" cy="356.2" r="2.00" fill="#f3f3f3"/>
<circle cx="257.5" cy="356.2" r="2.00" fill="#f3f3f3"/>
<circle cx="261.9" cy="356.2" r="2.00" fill="#f3f3f3"/>
<circle cx="287.5" cy="356.2" r="2.00" fill="#f3f3f3"/>
<circle cx="291.7" cy="356.2" r="2.00" fill="#f3f3f3"/>
<circle cx="296.7" cy="356.2" r="2.00" fill="#f3f3f3"/>
<circle cx="187.9" cy="352.8" r="2.00" fill="#f2f2f2"/>
<circle cx="211.6" cy="352.8" r="2.00" fill="#f2f2f2"/>
<circle cx="249.1" cy="352.8" r="2.00" fill="#f2f2f2"/>
<circle cx="255.0" cy="352.8" r="2.00" fill="#f2f2f2"/>
<circle cx="261.0" cy="352.8" r="2.00" fill="#f2f2f2"/>
<circle cx="286.4" cy="352.8" r="2.00" fill="#f2f2f2"/>
<circle cx="292.0" cy="352.8" r="2.00" fill="#f2f2f2"/>
<circle cx="297.4" cy="352.8" r="2.00" fill="#f2f2f2"/>
<circle cx="215.8" cy="349.3" r="2.00" fill="#f0f0f0"/>
<circle cx="218.5" cy="349.3" r="2.00" fill="#f0f0f0"/>
<circle cx="243.2" cy="349.3" r="2.00" fill="#f0f0f0"/>
<circle cx="255.9" cy="349.3" r="2.00" fill="#f0f0f0"/>
<circle cx="260.2" cy="349.3" r="2.00" fill="#f0f0f0"/>
<circle cx="280.5" cy="349.3" r="2.00" fill="#f0f0f0"/>
<circle cx="212.0" cy="345.8" r="2.00" fill="#efefef"/>
<circle cx="252.0" cy="345.8" r="2.00" fill="#efefef"/>
<circle cx="256.8" cy="345.8" r="2.00" fill="#efefef"/>
<circle cx="268.2" cy="345.8" r="2.00" fill="#efefef"/>
<circle cx="273.2" cy="345.8" r="2.00" fill="#efefef"/>
<circle cx="278.6" cy="345.8" r="2.00" fill="#efefef"/>
<circle cx="288.7" cy="345.8" r="2.00" fill="#efefef"/>
<circle cx="295.9" cy="345.8" r="2.00" fill="#efefef"/>
<circle cx="213.1" cy="342.3" r="2.00" fill="#ededed"/>
<circle cx="235.8" cy="342.3" r="2.00" fill="#ededed"/>
<circle cx="257.5" cy="342.3" r="2.00" fill="#ededed"/>
<circle cx="261.2" cy="342.3" r="2.00" fill="#ededed"/>
<circle cx="273.8" cy="342.3" r="2.00" fill="#ededed"/>
<circle cx="278.3" cy="342.3" r="2.00" fill="#ededed"/>
<circle cx="221.1" cy="338.9" r="2.00" fill="#ececec"/>
<circle cx="227.6" cy="338.9" r="2.00" fill="#ececec"/>
<circle cx="249.3" cy="338.9" r="2.00" fill="#ececec"/>
<circle cx="268.3" cy="338.9" r="2.00" fill="#ececec"/>
<circle cx="272.2" cy="338.9" r="2.00" fill="#ececec"/>
<circle cx="289.6" cy="338.9" r="2.00" fill="#ececec"/>
<circle cx="256.8" cy="335.4" r="2.00" fill="#eaeaea"/>
<circle cx="273.1" cy="335.4" r="2.00" fill="#eaeaea"/>
<circle cx="276.9" cy="335.4" r="2.00" fill="#eaeaea"/>
<circle cx="281.3" cy="335.4" r="2.00" fill="#eaeaea"/>
<circle cx="248.1" cy="331.9" r="2.00" fill="#e8e8e8"/>
<circle cx="274.3" cy="331.9" r="2.00" fill="#e8e8e8"/>
<circle cx="289.4" cy="331.9" r="2.00" fill="#e8e8e8"/>
<circle cx="235.9" cy="328.5" r="2.00" fill="#e5e5e5"/>
<circle cx="252.8" cy="328.5" r="2.00" fill="#e5e5e5"/>
<circle cx="274.7" cy="328.5" r="2.00" fill="#e5e5e5"/>
<circle cx="278.6" cy="328.5" r="2.00" fill="#e5e5e5"/>
<circle cx="282.4" cy="328.5" r="2.00" fill="#e5e5e5"/>
<circle cx="233.3" cy="325.0" r="2.00" fill="#e3e3e3"/>
<circle cx="279.7" cy="325.0" r="2.00" fill="#e3e3e3"/>
<circle cx="273.9" cy="321.5" r="2.00" fill="#e1e1e1"/>
<circle cx="279.2" cy="321.5" r="2.00" fill="#e1e1e1"/>
<circle cx="284.6" cy="321.5" r="2.00" fill="#e1e1e1"/>
<circle cx="290.5" cy="321.5" r="2.00" fill="#e1e1e1"/>
<circle cx="227.9" cy="318.0" r="2.00" fill="#dfdfdf"/>
<circle cx="278.2" cy="318.0" r="2.00" fill="#dfdfdf"/>
<circle cx="278.2" cy="314.6" r="2.00" fill="#dddddd"/>
<circle cx="272.7" cy="311.1" r="2.00" fill="#dadada"/>
<circle cx="242.3" cy="307.6" r="2.00" fill="#d8d8d8"/>
<circle cx="259.5" cy="307.6" r="2.00" fill="#d8d8d8"/>
<circle cx="273.1" cy="307.6" r="2.00" fill="#d8d8d8"/>
<circle cx="293.2" cy="307.6" r="2.00" fill="#d8d8d8"/>
<circle cx="276.3" cy="304.1" r="2.00" fill="#d6d6d6"/>
<circle cx="288.6" cy="304.1" r="2.00" fill="#d6d6d6"/>
<circle cx="288.9" cy="293.7" r="2.00" fill="#cccccc"/>
<circle cx="288.3" cy="283.3" r="2.00" fill="#c3c3c3"/>
<circle cx="292.8" cy="283.3" r="2.00" fill="#c3c3c3"/>
<circle cx="297.0" cy="283.3" r="2.00" fill="#c3c3c3"/>
<circle cx="248.0" cy="279.8" r="2.00" fill="#c0c0c0"/>
<circle cx="272.3" cy="279.8" r="2.00" fill="#c0c0c0"/>
<circle cx="288.4" cy="276.4" r="2.00" fill="#bcbcbc"/>
<circle cx="290.1" cy="265.9" r="2.00" fill="#b2b2b2"/>
<circle cx="293.3" cy="265.9" r="2.00" fill="#b2b2b2"/>
<circle cx="275.2" cy="259.0" r="2.00" fill="#aaaaaa"/>
<circle cx="290.9" cy="259.0" r="2.00" fill="#aaaaaa"/>
<circle cx="297.0" cy="370.1" r="2.00" fill="#f9f9f9"/>
<circle cx="300.2" cy="370.1" r="2.00" fill="#f9f9f9"/>
<circle cx="303.7" cy="370.1" r="2.00" fill="#f9f9f9"/>
<circle cx="307.0" cy="370.1" r="2.00" fill="#f9f9f9"/>
<circle cx="310.0" cy="370.1" r="2.00" fill="#f9f9f9"/>
<circle cx="313.1" cy="370.1" r="2.00" fill="#f9f9f9"/>
<circle cx="316.5" cy="370.1" r="2.00" fill="#f9f9f9"/>
<circle cx="320.4" cy="370.1" r="2.00" fill="#f9f9f9"/>
<circle cx="323.7" cy="370.1" r="2.00" fill="#f9f9f9"/>
<circle cx="326.7" cy="370.1" r="2.00" fill="#f9f9f9"/>
<circle cx="329.8" cy="370.1" r="2.00" fill="#f9f9f9"/>
<circle cx="333.0" cy="370.1" r="2.00" fill="#f9f9f9"/>
<circle cx="336.3" cy="370.1" r="2.00" fill="#f9f9f9"/>
<circle cx="340.0" cy="370.1" r="2.00" fill="#f9f9f9"/>
<circle cx="342.9" cy="370.1" r="2.00" fill="#f9f9f9"/>
<circle cx="346.7" cy="370.1" r="2.00" fill="#f9f9f9"/>
<circle cx="349.1" cy="370.1" r="2.00" fill="#f9f9f9"/>
<circle cx="359.7" cy="370.1" r="2.00" fill="#f9f9f9"/>
<circle cx="368.1" cy="370.1" r="2.00" fill="#f9f9f9"/>
<circle cx="371.3" cy="370.1" r="2.00" fill="#f9f9f9"/>
<circle cx="377.2" cy="370.1" r="2.00" fill="#f9f9f9"/>
<circle cx="380.5" cy="370.1" r="2.00" fill="#f9f9f9"/>
<circle cx="383.5" cy="370.1" r="2.00" fill="#f9f9f9"/>
<circle cx="392.7" cy="370.1" r="2.00" fill="#f9f9f9"/>
<circle cx="395.5" cy="370.1" r="2.00" fill="#f9f9f9"/>
<circle cx="398.3" cy="370.1" r="2.00" fill="#f9f9f9"/>
<circle cx="403.2" cy="370.1" r="2.00" fill="#f9f9f9"/>
<circle cx="407.8" cy="370.1" r="2.00" fill="#f9f9f9"/>
<circle cx="416.2" cy="370.1" r="2.00" fill="#f9f9f9"/>
<circle cx="418.6" cy="370.1" r="2.00" fill="#f9f9f9"/>
<circle cx="421.8" cy="370.1" r="2.00" fill="#f9f9f9"/>
<circle cx="424.8" cy="370.1" r="2.00" fill="#f9f9f9"/>
<circle cx="428.1" cy="370.1" r="2.00" fill="#f9f9f9"/>
<circle cx="296.8" cy="366.7" r="2.00" fill="#f7f7f7"/>
<circle cx="300.3" cy="366.7" r="2.00" fill="#f7f7f7"/>
<circle cx="302.9" cy="366.7" r="2.00" fill="#f7f7f7"/>
<circle cx="305.3" cy="366.7" r="2.00" fill="#f7f7f7"/>
<circle cx="309.5" cy="366.7" r="2.00" fill="#f7f7f7"/>
<circle cx="312.6" cy="366.7" r="2.00" fill="#f7f7f7"/>
<circle cx="316.7" cy="366.7" r="2.00" fill="#f7f7f7"/>
<circle cx="319.7" cy="366.7" r="2.00" fill="#f7f7f7"/>
<circle cx="323.0" cy="366.7" r="2.00" fill="#f7f7f7"/>
<circle cx="326.1" cy="366.7" r="2.00" fill="#f7f7f7"/>
<circle cx="328.9" cy="366.7" r="2.00" fill="#f7f7f7"/>
<circle cx="332.4" cy="366.7" r="2.00" fill="#f7f7f7"/>
<circle cx="335.3" cy="366.7" r="2.00" fill="#f7f7f7"/>
<circle cx="338.7" cy="366.7" r="2.00" fill="#f7f7f7"/>
<circle cx="342.0" cy="366.7" r="2.00" fill="#f7f7f7"/>
<circle cx="345.2" cy="366.7" r="2.00" fill="#f7f7f7"/>
<circle cx="348.1" cy="366.7" r="2.00" fill="#f7f7f7"/>
<circle cx="297.3" cy="363.2" r="2.00" fill="#f6f6f6"/>
<circle cx="303.7" cy="363.2" r="2.00" fill="#f6f6f6"/>
<circle cx="308.8" cy="363.2" r="2.00" fill="#f6f6f6"/>
<circle cx="312.9" cy="363.2" r="2.00" fill="#f6f6f6"/>
<circle cx="333.8" cy="363.2" r="2.00" fill="#f6f6f6"/>
<circle cx="338.4" cy="363.2" r="2.00" fill="#f6f6f6"/>
<circle cx="342.9" cy="363.2" r="2.00" fill="#f6f6f6"/>
<circle cx="348.8" cy="363.2" r="2.00" fill="#f6f6f6"/>
<circle cx="353.0" cy="363.2" r="2.00" fill="#f6f6f6"/>
<circle cx="363.4" cy="363.2" r="2.00" fill="#f6f6f6"/>
<circle cx="371.7" cy="363.2" r="2.00" fill="#f6f6f6"/>
<circle cx="391.6" cy="363.2" r="2.00" fill="#f6f6f6"/>
<circle cx="413.7" cy="363.2" r="2.00" fill="#f6f6f6"/>
<circle cx="423.7" cy="363.2" r="2.00" fill="#f6f6f6"/>
<circle cx="431.8" cy="363.2" r="2.00" fill="#f6f6f6"/>
<circle cx="297.3" cy="359.7" r="2.00" fill="#f4f4f4"/>
<circle cx="301.6" cy="359.7" r="2.00" fill="#f4f4f4"/>
<circle cx="305.2" cy="359.7" r="2.00" fill="#f4f4f4"/>
<circle cx="310.2" cy="359.7" r="2.00" fill="#f4f4f4"/>
<circle cx="316.3" cy="359.7" r="2.00" fill="#f4f4f4"/>
<circle cx="320.2" cy="359.7" r="2.00" fill="#f4f4f4"/>
<circle cx="323.5" cy="359.7" r="2.00" fill="#f4f4f4"/>
<circle cx="332.5" cy="359.7" r="2.00" fill="#f4f4f4"/>
<circle cx="337.6" cy="359.7" r="2.00" fill="#f4f4f4"/>
<circle cx="352.1" cy="359.7" r="2.00" fill="#f4f4f4"/>
<circle cx="361.5" cy="359.7" r="2.00" fill="#f4f4f4"/>
<circle cx="296.7" cy="356.2" r="2.00" fill="#f3f3f3"/>
<circle cx="301.4" cy="356.2" r="2.00" fill="#f3f3f3"/>
<circle cx="307.6" cy="356.2" r="2.00" fill="#f3f3f3"/>
<circle cx="321.0" cy="356.2" r="2.00" fill="#f3f3f3"/>
<circle cx="325.7" cy="356.2" r="2.00" fill="#f3f3f3"/>
<circle cx="330.9" cy="356.2" r="2.00" fill="#f3f3f3"/>
<circle cx="335.2" cy="356.2" r="2.00" fill="#f3f3f3"/>
<circle cx="343.0" cy="356.2" r="2.00" fill="#f3f3f3"/>
<circle cx="350.7" cy="356.2" r="2.00" fill="#f3f3f3"/>
<circle cx="353.7" cy="356.2" r="2.00" fill="#f3f3f3"/>
<circle cx="382.9" cy="356.2" r="2.00" fill="#f3f3f3"/>
<circle cx="438.3" cy="356.2" r="2.00" fill="#f3f3f3"/>
<circle cx="297.4" cy="352.8" r="2.00" fill="#f2f2f2"/>
<circle cx="302.4" cy="352.8" r="2.00" fill="#f2f2f2"/>
<circle cx="305.2" cy="352.8" r="2.00" fill="#f2f2f2"/>
<circle cx="309.0" cy="352.8" r="2.00" fill="#f2f2f2"/>
<circle cx="320.3" cy="352.8" r="2.00" fill="#f2f2f2"/>
<circle cx="325.6" cy="352.8" r="2.00" fill="#f2f2f2"/>
<circle cx="331.7" cy="352.8" r="2.00" fill="#f2f2f2"/>
<circle cx="338.4" cy="352.8" r="2.00" fill="#f2f2f2"/>
<circle cx="342.9" cy="352.8" r="2.00" fill="#f2f2f2"/>
<circle cx="348.2" cy="352.8" r="2.00" fill="#f2f2f2"/>
<circle cx="352.2" cy="352.8" r="2.00" fill="#f2f2f2"/>
<circle cx="356.8" cy="352.8" r="2.00" fill="#f2f2f2"/>
<circle cx="361.8" cy="352.8" r="2.00" fill="#f2f2f2"/>
<circle cx="370.2" cy="352.8" r="2.00" fill="#f2f2f2"/>
<circle cx="374.7" cy="352.8" r="2.00" fill="#f2f2f2"/>
<circle cx="379.0" cy="352.8" r="2.00" fill="#f2f2f2"/>
<circle cx="383.0" cy="352.8" r="2.00" fill="#f2f2f2"/>
<circle cx="409.0" cy="352.8" r="2.00" fill="#f2f2f2"/>
<circle cx="438.6" cy="352.8" r="2.00" fill="#f2f2f2"/>
<circle cx="443.2" cy="352.8" r="2.00" fill="#f2f2f2"/>
<circle cx="297.3" cy="349.3" r="2.00" fill="#f0f0f0"/>
<circle cx="300.2" cy="349.3" r="2.00" fill="#f0f0f0"/>
<circle cx="306.6" cy="349.3" r="2.00" fill="#f0f0f0"/>
<circle cx="320.8" cy="349.3" r="2.00" fill="#f0f0f0"/>
<circle cx="324.8" cy="349.3" r="2.00" fill="#f0f0f0"/>
<circle cx="329.4" cy="349.3" r="2.00" fill="#f0f0f0"/>
<circle cx="333.5" cy="349.3" r="2.00" fill="#f0f0f0"/>
<circle cx="337.5" cy="349.3" r="2.00" fill="#f0f0f0"/>
<circle cx="345.6" cy="349.3" r="2.00" fill="#f0f0f0"/>
<circle cx="349.9" cy="349.3" r="2.00" fill="#f0f0f0"/>
<circle cx="355.1" cy="349.3" r="2.00" fill="#f0f0f0"/>
<circle cx="359.1" cy="349.3" r="2.00" fill="#f0f0f0"/>
<circle cx="361.5" cy="349.3" r="2.00" fill="#f0f0f0"/>
<circle cx="365.6" cy="349.3" r="2.00" fill="#f0f0f0"/>
<circle cx="369.6" cy="349.3" r="2.00" fill="#f0f0f0"/>
<circle cx="374.1" cy="349.3" r="2.00" fill="#f0f0f0"/>
<circle cx="378.4" cy="349.3" r="2.00" fill="#f0f0f0"/>
<circle cx="383.3" cy="349.3" r="2.00" fill="#f0f0f0"/>
<circle cx="387.0" cy="349.3" r="2.00" fill="#f0f0f0"/>
<circle cx="389.1" cy="349.3" r="2.00" fill="#f0f0f0"/>
<circle cx="394.3" cy="349.3" r="2.00" fill="#f0f0f0"/>
<circle cx="399.7" cy="349.3" r="2.00" fill="#f0f0f0"/>
<circle cx="403.8" cy="349.3" r="2.00" fill="#f0f0f0"/>
<circle cx="410.3" cy="349.3" r="2.00" fill="#f0f0f0"/>
<circle cx="421.1" cy="349.3" r="2.00" fill="#f0f0f0"/>
<circle cx="437.8" cy="349.3" r="2.00" fill="#f0f0f0"/>
<circle cx="443.9" cy="349.3" r="2.00" fill="#f0f0f0"/>
<circle cx="297.3" cy="345.8" r="2.00" fill="#efefef"/>
<circle cx="308.1" cy="345.8" r="2.00" fill="#efefef"/>
<circle cx="317.3" cy="345.8" r="2.00" fill="#efefef"/>
<circle cx="321.4" cy="345.8" r="2.00" fill="#efefef"/>
<circle cx="324.9" cy="345.8" r="2.00" fill="#efefef"/>
<circle cx="334.4" cy="345.8" r="2.00" fill="#efefef"/>
<circle cx="339.7" cy="345.8" r="2.00" fill="#efefef"/>
<circle cx="344.2" cy="345.8" r="2.00" fill="#efefef"/>
<circle cx="349.2" cy="345.8" r="2.00" fill="#efefef"/>
<circle cx="352.9" cy="345.8" r="2.00" fill="#efefef"/>
<circle cx="357.5" cy="345.8" r="2.00" fill="#efefef"/>
<circle cx="361.6" cy="345.8" r="2.00" fill="#efefef"/>
<circle cx="366.0" cy="345.8" r="2.00" fill="#efefef"/>
<circle cx="370.1" cy="345.8" r="2.00" fill="#efefef"/>
<circle cx="374.6" cy="345.8" r="2.00" fill="#efefef"/>
<circle cx="377.4" cy="345.8" r="2.00" fill="#efefef"/>
<circle cx="381.5" cy="345.8" r="2.00" fill="#efefef"/>
<circle cx="385.4" cy="345.8" r="2.00" fill="#efefef"/>
<circle cx="391.4" cy="345.8" r="2.00" fill="#efefef"/>
<circle cx="395.3" cy="345.8" r="2.00" fill="#efefef"/>
<circle cx="399.5" cy="345.8" r="2.00" fill="#efefef"/>
<circle cx="297.3" cy="342.3" r="2.00" fill="#ededed"/>
<circle cx="308.2" cy="342.3" r="2.00" fill="#ededed"/>
<circle cx="317.2" cy="342.3" r="2.00" fill="#ededed"/>
<circle cx="324.2" cy="342.3" r="2.00" fill="#ededed"/>
<circle cx="328.8" cy="342.3" r="2.00" fill="#ededed"/>
<circle cx="348.8" cy="342.3" r="2.00" fill="#ededed"/>
<circle cx="358.6" cy="342.3" r="2.00" fill="#ededed"/>
<circle cx="362.5" cy="342.3" r="2.00" fill="#ededed"/>
<circle cx="370.3" cy="342.3" r="2.00" fill="#ededed"/>
<circle cx="374.4" cy="342.3" r="2.00" fill="#ededed"/>
<circle cx="386.1" cy="342.3" r="2.00" fill="#ededed"/>
<circle cx="391.0" cy="342.3" r="2.00" fill="#ededed"/>
<circle cx="397.6" cy="342.3" r="2.00" fill="#ededed"/>
<circle cx="301.9" cy="338.9" r="2.00" fill="#ececec"/>
<circle cx="306.4" cy="338.9" r="2.00" fill="#ececec"/>
<circle cx="310.1" cy="338.9" r="2.00" fill="#ececec"/>
<circle cx="314.8" cy="338.9" r="2.00" fill="#ececec"/>
<circle cx="319.5" cy="338.9" r="2.00" fill="#ececec"/>
<circle cx="324.5" cy="338.9" r="2.00" fill="#ececec"/>
<circle cx="328.8" cy="338.9" r="2.00" fill="#ececec"/>
<circle cx="336.3" cy="338.9" r="2.00" fill="#ececec"/>
<circle cx="342.1" cy="338.9" r="2.00" fill="#ececec"/>
<circle cx="349.1" cy="338.9" r="2.00" fill="#ececec"/>
<circle cx="357.8" cy="338.9" r="2.00" fill="#ececec"/>
<circle cx="362.1" cy="338.9" r="2.00" fill="#ececec"/>
<circle cx="366.6" cy="338.9" r="2.00" fill="#ececec"/>
<circle cx="370.8" cy="338.9" r="2.00" fill="#ececec"/>
<circle cx="375.7" cy="338.9" r="2.00" fill="#ececec"/>
<circle cx="384.9" cy="338.9" r="2.00" fill="#ececec"/>
<circle cx="389.0" cy="338.9" r="2.00" fill="#ececec"/>
<circle cx="404.1" cy="338.9" r="2.00" fill="#ececec"/>
<circle cx="410.5" cy="338.9" r="2.00" fill="#ececec"/>
<circle cx="418.5" cy="338.9" r="2.00" fill="#ececec"/>
<circle cx="422.2" cy="338.9" r="2.00" fill="#ececec"/>
<circle cx="426.7" cy="338.9" r="2.00" fill="#ececec"/>
<circle cx="434.3" cy="338.9" r="2.00" fill="#ececec"/>
<circle cx="443.9" cy="338.9" r="2.00" fill="#ececec"/>
<circle cx="315.7" cy="335.4" r="2.00" fill="#eaeaea"/>
<circle cx="387.2" cy="335.4" r="2.00" fill="#eaeaea"/>
<circle cx="398.0" cy="335.4" r="2.00" fill="#eaeaea"/>
<circle cx="404.5" cy="335.4" r="2.00" fill="#eaeaea"/>
<circle cx="416.4" cy="335.4" r="2.00" fill="#eaeaea"/>
<circle cx="420.6" cy="335.4" r="2.00" fill="#eaeaea"/>
<circle cx="424.4" cy="335.4" r="2.00" fill="#eaeaea"/>
<circle cx="439.8" cy="335.4" r="2.00" fill="#eaeaea"/>
<circle cx="300.1" cy="331.9" r="2.00" fill="#e8e8e8"/>
<circle cx="303.0" cy="331.9" r="2.00" fill="#e8e8e8"/>
<circle cx="383.9" cy="331.9" r="2.00" fill="#e8e8e8"/>
<circle cx="403.5" cy="331.9" r="2.00" fill="#e8e8e8"/>
<circle cx="324.5" cy="328.5" r="2.00" fill="#e5e5e5"/>
<circle cx="329.4" cy="328.5" r="2.00" fill="#e5e5e5"/>
<circle cx="343.8" cy="328.5" r="2.00" fill="#e5e5e5"/>
<circle cx="383.8" cy="328.5" r="2.00" fill="#e5e5e5"/>
<circle cx="410.3" cy="328.5" r="2.00" fill="#e5e5e5"/>
<circle cx="416.1" cy="328.5" r="2.00" fill="#e5e5e5"/>
<circle cx="421.7" cy="328.5" r="2.00" fill="#e5e5e5"/>
<circle cx="431.9" cy="328.5" r="2.00" fill="#e5e5e5"/>
<circle cx="436.6" cy="328.5" r="2.00" fill="#e5e5e5"/>
<circle cx="324.2" cy="325.0" r="2.00" fill="#e3e3e3"/>
<circle cx="326.9" cy="325.0" r="2.00" fill="#e3e3e3"/>
<circle cx="343.1" cy="325.0" r="2.00" fill="#e3e3e3"/>
<circle cx="349.8" cy="325.0" r="2.00" fill="#e3e3e3"/>
<circle cx="357.4" cy="325.0" r="2.00" fill="#e3e3e3"/>
<circle cx="424.8" cy="325.0" r="2.00" fill="#e3e3e3"/>
<circle cx="429.2" cy="325.0" r="2.00" fill="#e3e3e3"/>
<circle cx="433.9" cy="325.0" r="2.00" fill="#e3e3e3"/>
<circle cx="439.4" cy="325.0" r="2.00" fill="#e3e3e3"/>
<circle cx="444.2" cy="325.0" r="2.00" fill="#e3e3e3"/>
<circle cx="301.4" cy="321.5" r="2.00" fill="#e1e1e1"/>
<circle cx="307.5" cy="321.5" r="2.00" fill="#e1e1e1"/>
<circle cx="313.0" cy="321.5" r="2.00" fill="#e1e1e1"/>
<circle cx="319.3" cy="321.5" r="2.00" fill="#e1e1e1"/>
<circle cx="324.1" cy="321.5" r="2.00" fill="#e1e1e1"/>
<circle cx="327.8" cy="321.5" r="2.00" fill="#e1e1e1"/>
<circle cx="332.2" cy="321.5" r="2.00" fill="#e1e1e1"/>
<circle cx="336.9" cy="321.5" r="2.00" fill="#e1e1e1"/>
<circle cx="358.6" cy="321.5" r="2.00" fill="#e1e1e1"/>
<circle cx="364.8" cy="321.5" r="2.00" fill="#e1e1e1"/>
<circle cx="428.2" cy="321.5" r="2.00" fill="#e1e1e1"/>
<circle cx="433.4" cy="321.5" r="2.00" fill="#e1e1e1"/>
<circle cx="443.6" cy="321.5" r="2.00" fill="#e1e1e1"/>
<circle cx="308.1" cy="318.0" r="2.00" fill="#dfdfdf"/>
<circle cx="311.6" cy="318.0" r="2.00" fill="#dfdfdf"/>
<circle cx="325.3" cy="318.0" r="2.00" fill="#dfdfdf"/>
<circle cx="329.1" cy="318.0" r="2.00" fill="#dfdfdf"/>
<circle cx="336.2" cy="318.0" r="2.00" fill="#dfdfdf"/>
<circle cx="365.3" cy="318.0" r="2.00" fill="#dfdfdf"/>
<circle cx="377.3" cy="318.0" r="2.00" fill="#dfdfdf"/>
<circle cx="381.7" cy="318.0" r="2.00" fill="#dfdfdf"/>
<circle cx="386.5" cy="318.0" r="2.00" fill="#dfdfdf"/>
<circle cx="407.8" cy="318.0" r="2.00" fill="#dfdfdf"/>
<circle cx="423.7" cy="318.0" r="2.00" fill="#dfdfdf"/>
<circle cx="432.3" cy="318.0" r="2.00" fill="#dfdfdf"/>
<circle cx="435.5" cy="318.0" r="2.00" fill="#dfdfdf"/>
<circle cx="304.5" cy="314.6" r="2.00" fill="#dddddd"/>
<circle cx="307.5" cy="314.6" r="2.00" fill="#dddddd"/>
<circle cx="318.8" cy="314.6" r="2.00" fill="#dddddd"/>
<circle cx="323.2" cy="314.6" r="2.00" fill="#dddddd"/>
<circle cx="328.2" cy="314.6" r="2.00" fill="#dddddd"/>
<circle cx="333.2" cy="314.6" r="2.00" fill="#dddddd"/>
<circle cx="337.4" cy="314.6" r="2.00" fill="#dddddd"/>
<circle cx="342.2" cy="314.6" r="2.00" fill="#dddddd"/>
<circle cx="348.5" cy="314.6" r="2.00" fill="#dddddd"/>
<circle cx="356.4" cy="314.6" r="2.00" fill="#dddddd"/>
<circle cx="359.3" cy="314.6" r="2.00" fill="#dddddd"/>
<circle cx="385.2" cy="314.6" r="2.00" fill="#dddddd"/>
<circle cx="403.5" cy="314.6" r="2.00" fill="#dddddd"/>
<circle cx="409.6" cy="314.6" r="2.00" fill="#dddddd"/>
<circle cx="420.7" cy="314.6" r="2.00" fill="#dddddd"/>
<circle cx="440.1" cy="314.6" r="2.00" fill="#dddddd"/>
<circle cx="306.0" cy="311.1" r="2.00" fill="#dadada"/>
<circle cx="309.7" cy="311.1" r="2.00" fill="#dadada"/>
<circle cx="312.9" cy="311.1" r="2.00" fill="#dadada"/>
<circle cx="320.5" cy="311.1" r="2.00" fill="#dadada"/>
<circle cx="325.0" cy="311.1" r="2.00" fill="#dadada"/>
<circle cx="333.7" cy="311.1" r="2.00" fill="#dadada"/>
<circle cx="338.9" cy="311.1" r="2.00" fill="#dadada"/>
<circle cx="342.8" cy="311.1" r="2.00" fill="#dadada"/>
<circle cx="348.4" cy="311.1" r="2.00" fill="#dadada"/>
<circle cx="366.4" cy="311.1" r="2.00" fill="#dadada"/>
<circle cx="376.8" cy="311.1" r="2.00" fill="#dadada"/>
<circle cx="414.9" cy="311.1" r="2.00" fill="#dadada"/>
<circle cx="429.0" cy="311.1" r="2.00" fill="#dadada"/>
<circle cx="299.6" cy="307.6" r="2.00" fill="#d8d8d8"/>
<circle cx="376.4" cy="307.6" r="2.00" fill="#d8d8d8"/>
<circle cx="384.2" cy="307.6" r="2.00" fill="#d8d8d8"/>
<circle cx="431.1" cy="307.6" r="2.00" fill="#d8d8d8"/>
<circle cx="438.5" cy="307.6" r="2.00" fill="#d8d8d8"/>
<circle cx="298.4" cy="304.1" r="2.00" fill="#d6d6d6"/>
<circle cx="302.7" cy="304.1" r="2.00" fill="#d6d6d6"/>
<circle cx="306.9" cy="304.1" r="2.00" fill="#d6d6d6"/>
<circle cx="365.7" cy="304.1" r="2.00" fill="#d6d6d6"/>
<circle cx="377.1" cy="304.1" r="2.00" fill="#d6d6d6"/>
<circle cx="383.0" cy="304.1" r="2.00" fill="#d6d6d6"/>
<circle cx="388.2" cy="304.1" r="2.00" fill="#d6d6d6"/>
<circle cx="393.7" cy="304.1" r="2.00" fill="#d6d6d6"/>
<circle cx="441.0" cy="304.1" r="2.00" fill="#d6d6d6"/>
<circle cx="299.8" cy="300.7" r="2.00" fill="#d3d3d3"/>
<circle cx="444.4" cy="300.7" r="2.00" fill="#d3d3d3"/>
<circle cx="300.4" cy="297.2" r="2.00" fill="#d0d0d0"/>
<circle cx="359.3" cy="297.2" r="2.00" fill="#d0d0d0"/>
<circle cx="389.1" cy="297.2" r="2.00" fill="#d0d0d0"/>
<circle cx="389.0" cy="293.7" r="2.00" fill="#cccccc"/>
<circle cx="395.9" cy="293.7" r="2.00" fill="#cccccc"/>
<circle cx="318.9" cy="290.2" r="2.00" fill="#c9c9c9"/>
<circle cx="330.0" cy="290.2" r="2.00" fill="#c9c9c9"/>
<circle cx="340.7" cy="290.2" r="2.00" fill="#c9c9c9"/>
<circle cx="352.9" cy="290.2" r="2.00" fill="#c9c9c9"/>
<circle cx="359.6" cy="290.2" r="2.00" fill="#c9c9c9"/>
<circle cx="388.4" cy="290.2" r="2.00" fill="#c9c9c9"/>
<circle cx="395.4" cy="290.2" r="2.00" fill="#c9c9c9"/>
<circle cx="400.5" cy="290.2" r="2.00" fill="#c9c9c9"/>
<circle cx="405.4" cy="290.2" r="2.00" fill="#c9c9c9"/>
<circle cx="444.2" cy="290.2" r="2.00" fill="#c9c9c9"/>
<circle cx="311.4" cy="286.8" r="2.00" fill="#c6c6c6"/>
<circle cx="315.4" cy="286.8" r="2.00" fill="#c6c6c6"/>
<circle cx="324.7" cy="286.8" r="2.00" fill="#c6c6c6"/>
<circle cx="335.2" cy="286.8" r="2.00" fill="#c6c6c6"/>
<circle cx="343.6" cy="286.8" r="2.00" fill="#c6c6c6"/>
<circle cx="349.5" cy="286.8" r="2.00" fill="#c6c6c6"/>
<circle cx="399.1" cy="286.8" r="2.00" fill="#c6c6c6"/>
<circle cx="404.4" cy="286.8" r="2.00" fill="#c6c6c6"/>
<circle cx="296.6" cy="283.3" r="2.00" fill="#c3c3c3"/>
<circle cx="311.3" cy="283.3" r="2.00" fill="#c3c3c3"/>
<circle cx="323.7" cy="283.3" r="2.00" fill="#c3c3c3"/>
<circle cx="337.0" cy="283.3" r="2.00" fill="#c3c3c3"/>
<circle cx="394.3" cy="283.3" r="2.00" fill="#c3c3c3"/>
<circle cx="305.7" cy="279.8" r="2.00" fill="#c0c0c0"/>
<circle cx="398.9" cy="279.8" r="2.00" fill="#c0c0c0"/>
<circle cx="403.6" cy="279.8" r="2.00" fill="#c0c0c0"/>
<circle cx="438.8" cy="279.8" r="2.00" fill="#c0c0c0"/>
<circle cx="324.9" cy="276.4" r="2.00" fill="#bcbcbc"/>
<circle cx="377.8" cy="276.4" r="2.00" fill="#bcbcbc"/>
<circle cx="382.5" cy="276.4" r="2.00" fill="#bcbcbc"/>
<circle cx="325.9" cy="272.9" r="2.00" fill="#b9b9b9"/>
<circle cx="356.6" cy="272.9" r="2.00" fill="#b9b9b9"/>
<circle cx="377.9" cy="272.9" r="2.00" fill="#b9b9b9"/>
<circle cx="392.5" cy="272.9" r="2.00" fill="#b9b9b9"/>
<circle cx="313.3" cy="269.4" r="2.00" fill="#b6b6b6"/>
<circle cx="327.0" cy="269.4" r="2.00" fill="#b6b6b6"/>
<circle cx="336.3" cy="269.4" r="2.00" fill="#b6b6b6"/>
<circle cx="351.4" cy="269.4" r="2.00" fill="#b6b6b6"/>
<circle cx="370.2" cy="269.4" r="2.00" fill="#b6b6b6"/>
<circle cx="302.6" cy="265.9" r="2.00" fill="#b2b2b2"/>
<circle cx="308.2" cy="265.9" r="2.00" fill="#b2b2b2"/>
<circle cx="314.5" cy="265.9" r="2.00" fill="#b2b2b2"/>
<circle cx="335.6" cy="265.9" r="2.00" fill="#b2b2b2"/>
<circle cx="365.4" cy="265.9" r="2.00" fill="#b2b2b2"/>
<circle cx="378.2" cy="265.9" r="2.00" fill="#b2b2b2"/>
<circle cx="440.2" cy="265.9" r="2.00" fill="#b2b2b2"/>
<circle cx="297.4" cy="262.5" r="2.00" fill="#aeaeae"/>
<circle cx="302.5" cy="262.5" r="2.00" fill="#aeaeae"/>
<circle cx="306.8" cy="262.5" r="2.00" fill="#aeaeae"/>
<circle cx="312.4" cy="262.5" r="2.00" fill="#aeaeae"/>
<circle cx="316.9" cy="262.5" r="2.00" fill="#aeaeae"/>
<circle cx="344.6" cy="262.5" r="2.00" fill="#aeaeae"/>
<circle cx="363.5" cy="262.5" r="2.00" fill="#aeaeae"/>
<circle cx="379.7" cy="262.5" r="2.00" fill="#aeaeae"/>
<circle cx="296.6" cy="259.0" r="2.00" fill="#aaaaaa"/>
<circle cx="305.4" cy="259.0" r="2.00" fill="#aaaaaa"/>
<circle cx="309.5" cy="259.0" r="2.00" fill="#aaaaaa"/>
<circle cx="374.5" cy="259.0" r="2.00" fill="#aaaaaa"/>
<circle cx="398.1" cy="259.0" r="2.00" fill="#aaaaaa"/>
<circle cx="446.0" cy="259.0" r="2.00" fill="#aaaaaa"/>
<circle cx="474.8" cy="259.0" r="2.00" fill="#aaaaaa"/>
<circle cx="518.2" cy="259.0" r="2.00" fill="#aaaaaa"/>
<circle cx="455.4" cy="262.5" r="2.00" fill="#aeaeae"/>
<circle cx="497.3" cy="262.5" r="2.00" fill="#aeaeae"/>
<circle cx="537.7" cy="262.5" r="2.00" fill="#aeaeae"/>
<circle cx="551.3" cy="262.5" r="2.00" fill="#aeaeae"/>
<circle cx="555.0" cy="262.5" r="2.00" fill="#aeaeae"/>
<circle cx="558.4" cy="262.5" r="2.00" fill="#aeaeae"/>
<circle cx="462.8" cy="265.9" r="2.00" fill="#b2b2b2"/>
<circle cx="474.3" cy="269.4" r="2.00" fill="#b6b6b6"/>
<circle cx="459.7" cy="272.9" r="2.00" fill="#b9b9b9"/>
<circle cx="471.0" cy="272.9" r="2.00" fill="#b9b9b9"/>
<circle cx="456.4" cy="276.4" r="2.00" fill="#bcbcbc"/>
<circle cx="471.9" cy="276.4" r="2.00" fill="#bcbcbc"/>
<circle cx="483.3" cy="276.4" r="2.00" fill="#bcbcbc"/>
<circle cx="455.1" cy="279.8" r="2.00" fill="#c0c0c0"/>
<circle cx="465.5" cy="279.8" r="2.00" fill="#c0c0c0"/>
<circle cx="451.1" cy="286.8" r="2.00" fill="#c6c6c6"/>
<circle cx="445.4" cy="290.2" r="2.00" fill="#c9c9c9"/>
<circle cx="474.9" cy="290.2" r="2.00" fill="#c9c9c9"/>
<circle cx="472.6" cy="293.7" r="2.00" fill="#cccccc"/>
<circle cx="444.7" cy="300.7" r="2.00" fill="#d3d3d3"/>
<circle cx="460.6" cy="307.6" r="2.00" fill="#d8d8d8"/>
<circle cx="474.3" cy="311.1" r="2.00" fill="#dadada"/>
<circle cx="479.1" cy="314.6" r="2.00" fill="#dddddd"/>
<circle cx="520.3" cy="318.0" r="2.00" fill="#dfdfdf"/>
<circle cx="536.0" cy="318.0" r="2.00" fill="#dfdfdf"/>
<circle cx="542.6" cy="318.0" r="2.00" fill="#dfdfdf"/>
<circle cx="471.9" cy="321.5" r="2.00" fill="#e1e1e1"/>
<circle cx="526.2" cy="321.5" r="2.00" fill="#e1e1e1"/>
<circle cx="528.8" cy="321.5" r="2.00" fill="#e1e1e1"/>
<circle cx="562.2" cy="321.5" r="2.00" fill="#e1e1e1"/>
<circle cx="445.9" cy="325.0" r="2.00" fill="#e3e3e3"/>
<circle cx="452.1" cy="325.0" r="2.00" fill="#e3e3e3"/>
<circle cx="458.4" cy="325.0" r="2.00" fill="#e3e3e3"/>
<circle cx="474.1" cy="325.0" r="2.00" fill="#e3e3e3"/>
<circle cx="478.3" cy="328.5" r="2.00" fill="#e5e5e5"/>
<circle cx="470.0" cy="331.9" r="2.00" fill="#e8e8e8"/>
<circle cx="473.2" cy="331.9" r="2.00" fill="#e8e8e8"/>
<circle cx="453.2" cy="335.4" r="2.00" fill="#eaeaea"/>
<circle cx="459.2" cy="335.4" r="2.00" fill="#eaeaea"/>
<circle cx="461.7" cy="335.4" r="2.00" fill="#eaeaea"/>
<circle cx="478.4" cy="335.4" r="2.00" fill="#eaeaea"/>
<circle cx="486.6" cy="335.4" r="2.00" fill="#eaeaea"/>
<circle cx="460.3" cy="338.9" r="2.00" fill="#ececec"/>
<circle cx="487.4" cy="338.9" r="2.00" fill="#ececec"/>
<circle cx="501.7" cy="338.9" r="2.00" fill="#ececec"/>
<circle cx="565.3" cy="338.9" r="2.00" fill="#ececec"/>
<circle cx="567.3" cy="338.9" r="2.00" fill="#ececec"/>
<circle cx="588.7" cy="338.9" r="2.00" fill="#ececec"/>
<circle cx="464.1" cy="342.3" r="2.00" fill="#ededed"/>
<circle cx="472.5" cy="342.3" r="2.00" fill="#ededed"/>
<circle cx="462.5" cy="345.8" r="2.00" fill="#efefef"/>
<circle cx="504.7" cy="345.8" r="2.00" fill="#efefef"/>
<circle cx="444.2" cy="349.3" r="2.00" fill="#f0f0f0"/>
<circle cx="451.2" cy="349.3" r="2.00" fill="#f0f0f0"/>
<circle cx="460.4" cy="349.3" r="2.00" fill="#f0f0f0"/>
<circle cx="473.2" cy="349.3" r="2.00" fill="#f0f0f0"/>
<circle cx="489.7" cy="349.3" r="2.00" fill="#f0f0f0"/>
<circle cx="491.7" cy="349.3" r="2.00" fill="#f0f0f0"/>
<circle cx="500.9" cy="349.3" r="2.00" fill="#f0f0f0"/>
<circle cx="473.3" cy="352.8" r="2.00" fill="#f2f2f2"/>
<circle cx="475.6" cy="352.8" r="2.00" fill="#f2f2f2"/>
<circle cx="477.9" cy="352.8" r="2.00" fill="#f2f2f2"/>
<circle cx="452.8" cy="356.2" r="2.00" fill="#f3f3f3"/>
<circle cx="476.3" cy="356.2" r="2.00" fill="#f3f3f3"/>
<circle cx="494.5" cy="356.2" r="2.00" fill="#f3f3f3"/>
<circle cx="501.8" cy="356.2" r="2.00" fill="#f3f3f3"/>
<circle cx="503.9" cy="356.2" r="2.00" fill="#f3f3f3"/>
<circle cx="448.2" cy="359.7" r="2.00" fill="#f4f4f4"/>
<circle cx="462.4" cy="363.2" r="2.00" fill="#f6f6f6"/>
<circle cx="470.8" cy="363.2" r="2.00" fill="#f6f6f6"/>
<circle cx="473.1" cy="363.2" r="2.00" fill="#f6f6f6"/>
<circle cx="476.4" cy="363.2" r="2.00" fill="#f6f6f6"/>
<circle cx="482.4" cy="363.2" r="2.00" fill="#f6f6f6"/>
<circle cx="486.5" cy="363.2" r="2.00" fill="#f6f6f6"/>
<circle cx="489.6" cy="363.2" r="2.00" fill="#f6f6f6"/>
<circle cx="493.4" cy="363.2" r="2.00" fill="#f6f6f6"/>
<circle cx="496.9" cy="363.2" r="2.00" fill="#f6f6f6"/>
<circle cx="500.8" cy="363.2" r="2.00" fill="#f6f6f6"/>
<circle cx="504.4" cy="363.2" r="2.00" fill="#f6f6f6"/>
<circle cx="507.0" cy="363.2" r="2.00" fill="#f6f6f6"/>
<circle cx="510.3" cy="363.2" r="2.00" fill="#f6f6f6"/>
<circle cx="513.7" cy="363.2" r="2.00" fill="#f6f6f6"/>
<circle cx="516.7" cy="363.2" r="2.00" fill="#f6f6f6"/>
<circle cx="520.1" cy="363.2" r="2.00" fill="#f6f6f6"/>
<circle cx="523.5" cy="363.2" r="2.00" fill="#f6f6f6"/>
<circle cx="526.8" cy="363.2" r="2.00" fill="#f6f6f6"/>
<circle cx="529.9" cy="363.2" r="2.00" fill="#f6f6f6"/>
<circle cx="532.6" cy="363.2" r="2.00" fill="#f6f6f6"/>
<circle cx="536.5" cy="363.2" r="2.00" fill="#f6f6f6"/>
<circle cx="540.8" cy="363.2" r="2.00" fill="#f6f6f6"/>
<circle cx="543.7" cy="363.2" r="2.00" fill="#f6f6f6"/>
<circle cx="547.1" cy="363.2" r="2.00" fill="#f6f6f6"/>
<circle cx="511.8" cy="366.7" r="2.00" fill="#f7f7f7"/>
<circle cx="527.3" cy="366.7" r="2.00" fill="#f7f7f7"/>
<circle cx="539.7" cy="366.7" r="2.00" fill="#f7f7f7"/>
<circle cx="543.5" cy="366.7" r="2.00" fill="#f7f7f7"/>
<circle cx="601.0" cy="338.9" r="2.00" fill="#ececec"/>
<circle cx="557.2" cy="54.1" r="2.00" fill="#191919"/>
<circle cx="563.3" cy="54.1" r="2.00" fill="#191919"/>
<circle cx="550.9" cy="57.6" r="2.00" fill="#191919"/>
<circle cx="555.9" cy="57.6" r="2.00" fill="#191919"/>
<circle cx="529.8" cy="61.0" r="2.00" fill="#191919"/>
<circle cx="533.9" cy="61.0" r="2.00" fill="#191919"/>
<circle cx="538.0" cy="61.0" r="2.00" fill="#191919"/>
<circle cx="546.7" cy="61.0" r="2.00" fill="#191919"/>
<circle cx="555.0" cy="61.0" r="2.00" fill="#191919"/>
<circle cx="561.9" cy="61.0" r="2.00" fill="#191919"/>
<circle cx="519.9" cy="64.5" r="2.00" fill="#191919"/>
<circle cx="534.9" cy="64.5" r="2.00" fill="#191919"/>
<circle cx="539.0" cy="64.5" r="2.00" fill="#191919"/>
<circle cx="547.4" cy="64.5" r="2.00" fill="#191919"/>
<circle cx="551.9" cy="64.5" r="2.00" fill="#191919"/>
<circle cx="555.7" cy="64.5" r="2.00" fill="#191919"/>
<circle cx="510.1" cy="68.0" r="2.00" fill="#1a1a1a"/>
<circle cx="515.5" cy="68.0" r="2.00" fill="#1a1a1a"/>
<circle cx="523.3" cy="68.0" r="2.00" fill="#1a1a1a"/>
<circle cx="526.7" cy="68.0" r="2.00" fill="#1a1a1a"/>
<circle cx="534.7" cy="68.0" r="2.00" fill="#1a1a1a"/>
<circle cx="539.1" cy="68.0" r="2.00" fill="#1a1a1a"/>
<circle cx="548.2" cy="68.0" r="2.00" fill="#1a1a1a"/>
<circle cx="552.7" cy="68.0" r="2.00" fill="#1a1a1a"/>
<circle cx="557.6" cy="68.0" r="2.00" fill="#1a1a1a"/>
<circle cx="566.3" cy="68.0" r="2.00" fill="#1a1a1a"/>
<circle cx="502.1" cy="71.4" r="2.00" fill="#1a1a1a"/>
<circle cx="515.1" cy="71.4" r="2.00" fill="#1a1a1a"/>
<circle cx="523.9" cy="71.4" r="2.00" fill="#1a1a1a"/>
<circle cx="528.7" cy="71.4" r="2.00" fill="#1a1a1a"/>
<circle cx="537.1" cy="71.4" r="2.00" fill="#1a1a1a"/>
<circle cx="541.3" cy="71.4" r="2.00" fill="#1a1a1a"/>
<circle cx="545.2" cy="71.4" r="2.00" fill="#1a1a1a"/>
<circle cx="549.3" cy="71.4" r="2.00" fill="#1a1a1a"/>
<circle cx="553.8" cy="71.4" r="2.00" fill="#1a1a1a"/>
<circle cx="557.3" cy="71.4" r="2.00" fill="#1a1a1a"/>
<circle cx="561.9" cy="71.4" r="2.00" fill="#1a1a1a"/>
<circle cx="501.5" cy="74.9" r="2.00" fill="#1a1a1a"/>
<circle cx="520.9" cy="74.9" r="2.00" fill="#1a1a1a"/>
<circle cx="525.3" cy="74.9" r="2.00" fill="#1a1a1a"/>
<circle cx="531.2" cy="74.9" r="2.00" fill="#1a1a1a"/>
<circle cx="535.9" cy="74.9" r="2.00" fill="#1a1a1a"/>
<circle cx="540.7" cy="74.9" r="2.00" fill="#1a1a1a"/>
<circle cx="545.1" cy="74.9" r="2.00" fill="#1a1a1a"/>
<circle cx="550.3" cy="74.9" r="2.00" fill="#1a1a1a"/>
<circle cx="554.4" cy="74.9" r="2.00" fill="#1a1a1a"/>
<circle cx="560.3" cy="74.9" r="2.00" fill="#1a1a1a"/>
<circle cx="564.4" cy="74.9" r="2.00" fill="#1a1a1a"/>
<circle cx="573.6" cy="74.9" r="2.00" fill="#1a1a1a"/>
<circle cx="498.2" cy="78.4" r="2.00" fill="#1a1a1a"/>
<circle cx="509.3" cy="78.4" r="2.00" fill="#1a1a1a"/>
<circle cx="513.7" cy="78.4" r="2.00" fill="#1a1a1a"/>
<circle cx="522.6" cy="78.4" r="2.00" fill="#1a1a1a"/>
<circle cx="528.4" cy="78.4" r="2.00" fill="#1a1a1a"/>
<circle cx="532.8" cy="78.4" r="2.00" fill="#1a1a1a"/>
<circle cx="537.0" cy="78.4" r="2.00" fill="#1a1a1a"/>
<circle cx="541.3" cy="78.4" r="2.00" fill="#1a1a1a"/>
<circle cx="544.1" cy="78.4" r="2.00" fill="#1a1a1a"/>
<circle cx="548.4" cy="78.4" r="2.00" fill="#1a1a1a"/>
<circle cx="557.5" cy="78.4" r="2.00" fill="#1a1a1a"/>
<circle cx="561.2" cy="78.4" r="2.00" fill="#1a1a1a"/>
<circle cx="569.2" cy="78.4" r="2.00" fill="#1a1a1a"/>
<circle cx="573.2" cy="78.4" r="2.00" fill="#1a1a1a"/>
<circle cx="490.0" cy="81.9" r="2.00" fill="#1b1b1b"/>
<circle cx="516.0" cy="81.9" r="2.00" fill="#1b1b1b"/>
<circle cx="519.9" cy="81.9" r="2.00" fill="#1b1b1b"/>
<circle cx="523.7" cy="81.9" r="2.00" fill="#1b1b1b"/>
<circle cx="528.2" cy="81.9" r="2.00" fill="#1b1b1b"/>
<circle cx="533.0" cy="81.9" r="2.00" fill="#1b1b1b"/>
<circle cx="538.6" cy="81.9" r="2.00" fill="#1b1b1b"/>
<circle cx="542.9" cy="81.9" r="2.00" fill="#1b1b1b"/>
<circle cx="547.4" cy="81.9" r="2.00" fill="#1b1b1b"/>
<circle cx="551.5" cy="81.9" r="2.00" fill="#1b1b1b"/>
<circle cx="555.8" cy="81.9" r="2.00" fill="#1b1b1b"/>
<circle cx="559.6" cy="81.9" r="2.00" fill="#1b1b1b"/>
<circle cx="563.7" cy="81.9" r="2.00" fill="#1b1b1b"/>
<circle cx="570.6" cy="81.9" r="2.00" fill="#1b1b1b"/>
<circle cx="575.2" cy="81.9" r="2.00" fill="#1b1b1b"/>
<circle cx="482.6" cy="85.3" r="2.00" fill="#1c1c1c"/>
<circle cx="511.4" cy="85.3" r="2.00" fill="#1c1c1c"/>
<circle cx="518.9" cy="85.3" r="2.00" fill="#1c1c1c"/>
<circle cx="523.3" cy="85.3" r="2.00" fill="#1c1c1c"/>
<circle cx="528.4" cy="85.3" r="2.00" fill="#1c1c1c"/>
<circle cx="531.3" cy="85.3" r="2.00" fill="#1c1c1c"/>
<circle cx="535.3" cy="85.3" r="2.00" fill="#1c1c1c"/>
<circle cx="538.2" cy="85.3" r="2.00" fill="#1c1c1c"/>
<circle cx="542.5" cy="85.3" r="2.00" fill="#1c1c1c"/>
<circle cx="553.8" cy="85.3" r="2.00" fill="#1c1c1c"/>
<circle cx="557.9" cy="85.3" r="2.00" fill="#1c1c1c"/>
<circle cx="561.8" cy="85.3" r="2.00" fill="#1c1c1c"/>
<circle cx="564.7" cy="85.3" r="2.00" fill="#1c1c1c"/>
<circle cx="569.6" cy="85.3" r="2.00" fill="#1c1c1c"/>
<circle cx="574.8" cy="85.3" r="2.00" fill="#1c1c1c"/>
<circle cx="489.6" cy="88.8" r="2.00" fill="#1c1c1c"/>
<circle cx="496.8" cy="88.8" r="2.00" fill="#1c1c1c"/>
<circle cx="500.2" cy="88.8" r="2.00" fill="#1c1c1c"/>
<circle cx="519.5" cy="88.8" r="2.00" fill="#1c1c1c"/>
<circle cx="528.3" cy="88.8" r="2.00" fill="#1c1c1c"/>
<circle cx="533.0" cy="88.8" r="2.00" fill="#1c1c1c"/>
<circle cx="538.1" cy="88.8" r="2.00" fill="#1c1c1c"/>
<circle cx="548.4" cy="88.8" r="2.00" fill="#1c1c1c"/>
<circle cx="552.1" cy="88.8" r="2.00" fill="#1c1c1c"/>
<circle cx="555.8" cy="88.8" r="2.00" fill="#1c1c1c"/>
<circle cx="568.2" cy="88.8" r="2.00" fill="#1c1c1c"/>
<circle cx="573.3" cy="88.8" r="2.00" fill="#1c1c1c"/>
<circle cx="486.6" cy="92.3" r="2.00" fill="#1d1d1d"/>
<circle cx="494.6" cy="92.3" r="2.00" fill="#1d1d1d"/>
<circle cx="507.3" cy="92.3" r="2.00" fill="#1d1d1d"/>
<circle cx="523.1" cy="92.3" r="2.00" fill="#1d1d1d"/>
<circle cx="527.3" cy="92.3" r="2.00" fill="#1d1d1d"/>
<circle cx="531.2" cy="92.3" r="2.00" fill="#1d1d1d"/>
<circle cx="535.5" cy="92.3" r="2.00" fill="#1d1d1d"/>
<circle cx="539.9" cy="92.3" r="2.00" fill="#1d1d1d"/>
<circle cx="544.0" cy="92.3" r="2.00" fill="#1d1d1d"/>
<circle cx="548.9" cy="92.3" r="2.00" fill="#1d1d1d"/>
<circle cx="554.0" cy="92.3" r="2.00" fill="#1d1d1d"/>
<circle cx="559.3" cy="92.3" r="2.00" fill="#1d1d1d"/>
<circle cx="573.6" cy="92.3" r="2.00" fill="#1d1d1d"/>
<circle cx="487.4" cy="95.8" r="2.00" fill="#1e1e1e"/>
<circle cx="496.0" cy="95.8" r="2.00" fill="#1e1e1e"/>
<circle cx="505.5" cy="95.8" r="2.00" fill="#1e1e1e"/>
<circle cx="509.4" cy="95.8" r="2.00" fill="#1e1e1e"/>
<circle cx="521.5" cy="95.8" r="2.00" fill="#1e1e1e"/>
<circle cx="526.5" cy="95.8" r="2.00" fill="#1e1e1e"/>
<circle cx="531.1" cy="95.8" r="2.00" fill="#1e1e1e"/>
<circle cx="535.4" cy="95.8" r="2.00" fill="#1e1e1e"/>
<circle cx="539.9" cy="95.8" r="2.00" fill="#1e1e1e"/>
<circle cx="544.0" cy="95.8" r="2.00" fill="#1e1e1e"/>
<circle cx="548.6" cy="95.8" r="2.00" fill="#1e1e1e"/>
<circle cx="554.0" cy="95.8" r="2.00" fill="#1e1e1e"/>
<circle cx="558.9" cy="95.8" r="2.00" fill="#1e1e1e"/>
<circle cx="564.8" cy="95.8" r="2.00" fill="#1e1e1e"/>
<circle cx="568.4" cy="95.8" r="2.00" fill="#1e1e1e"/>
<circle cx="571.8" cy="95.8" r="2.00" fill="#1e1e1e"/>
<circle cx="479.9" cy="99.2" r="2.00" fill="#1f1f1f"/>
<circle cx="484.6" cy="99.2" r="2.00" fill="#1f1f1f"/>
<circle cx="489.0" cy="99.2" r="2.00" fill="#1f1f1f"/>
<circle cx="494.3" cy="99.2" r="2.00" fill="#1f1f1f"/>
<circle cx="499.6" cy="99.2" r="2.00" fill="#1f1f1f"/>
<circle cx="504.0" cy="99.2" r="2.00" fill="#1f1f1f"/>
<circle cx="509.6" cy="99.2" r="2.00" fill="#1f1f1f"/>
<circle cx="521.1" cy="99.2" r="2.00" fill="#1f1f1f"/>
<circle cx="526.0" cy="99.2" r="2.00" fill="#1f1f1f"/>
<circle cx="531.4" cy="99.2" r="2.00" fill="#1f1f1f"/>
<circle cx="538.5" cy="99.2" r="2.00" fill="#1f1f1f"/>
<circle cx="544.1" cy="99.2" r="2.00" fill="#1f1f1f"/>
<circle cx="548.5" cy="99.2" r="2.00" fill="#1f1f1f"/>
<circle cx="553.1" cy="99.2" r="2.00" fill="#1f1f1f"/>
<circle cx="564.5" cy="99.2" r="2.00" fill="#1f1f1f"/>
<circle cx="568.9" cy="99.2" r="2.00" fill="#1f1f1f"/>
<circle cx="573.6" cy="99.2" r="2.00" fill="#1f1f1f"/>
<circle cx="481.6" cy="102.7" r="2.00" fill="#202020"/>
<circle cx="485.9" cy="102.7" r="2.00" fill="#202020"/>
<circle cx="490.1" cy="102.7" r="2.00" fill="#202020"/>
<circle cx="494.6" cy="102.7" r="2.00" fill="#202020"/>
<circle cx="497.6" cy="102.7" r="2.00" fill="#202020"/>
<circle cx="501.7" cy="102.7" r="2.00" fill="#202020"/>
<circle cx="506.1" cy="102.7" r="2.00" fill="#202020"/>
<circle cx="510.9" cy="102.7" r="2.00" fill="#202020"/>
<circle cx="524.0" cy="102.7" r="2.00" fill="#202020"/>
<circle cx="528.4" cy="102.7" r="2.00" fill="#202020"/>
<circle cx="533.7" cy="102.7" r="2.00" fill="#202020"/>
<circle cx="538.1" cy="102.7" r="2.00" fill="#202020"/>
<circle cx="542.9" cy="102.7" r="2.00" fill="#202020"/>
<circle cx="547.0" cy="102.7" r="2.00" fill="#202020"/>
<circle cx="551.2" cy="102.7" r="2.00" fill="#202020"/>
<circle cx="563.0" cy="102.7" r="2.00" fill="#202020"/>
<circle cx="568.3" cy="102.7" r="2.00" fill="#202020"/>
<circle cx="573.4" cy="102.7" r="2.00" fill="#202020"/>
<circle cx="480.2" cy="106.2" r="2.00" fill="#202020"/>
<circle cx="484.8" cy="106.2" r="2.00" fill="#202020"/>
<circle cx="494.2" cy="106.2" r="2.00" fill="#202020"/>
<circle cx="498.8" cy="106.2" r="2.00" fill="#202020"/>
<circle cx="506.5" cy="106.2" r="2.00" fill="#202020"/>
<circle cx="511.2" cy="106.2" r="2.00" fill="#202020"/>
<circle cx="534.1" cy="106.2" r="2.00" fill="#202020"/>
<circle cx="566.6" cy="106.2" r="2.00" fill="#202020"/>
<circle cx="571.5" cy="106.2" r="2.00" fill="#202020"/>
<circle cx="576.5" cy="106.2" r="2.00" fill="#202020"/>
<circle cx="481.3" cy="109.7" r="2.00" fill="#212121"/>
<circle cx="491.7" cy="109.7" r="2.00" fill="#212121"/>
<circle cx="496.0" cy="109.7" r="2.00" fill="#212121"/>
<circle cx="499.6" cy="109.7" r="2.00" fill="#212121"/>
<circle cx="503.3" cy="109.7" r="2.00" fill="#212121"/>
<circle cx="506.4" cy="109.7" r="2.00" fill="#212121"/>
<circle cx="510.4" cy="109.7" r="2.00" fill="#212121"/>
<circle cx="522.3" cy="109.7" r="2.00" fill="#212121"/>
<circle cx="525.4" cy="109.7" r="2.00" fill="#212121"/>
<circle cx="529.5" cy="109.7" r="2.00" fill="#212121"/>
<circle cx="559.6" cy="109.7" r="2.00" fill="#212121"/>
<circle cx="564.8" cy="109.7" r="2.00" fill="#212121"/>
<circle cx="568.8" cy="109.7" r="2.00" fill="#212121"/>
<circle cx="573.5" cy="109.7" r="2.00" fill="#212121"/>
<circle cx="480.1" cy="113.1" r="2.00" fill="#222222"/>
<circle cx="483.7" cy="113.1" r="2.00" fill="#222222"/>
<circle cx="493.0" cy="113.1" r="2.00" fill="#222222"/>
<circle cx="503.4" cy="113.1" r="2.00" fill="#222222"/>
<circle cx="510.5" cy="113.1" r="2.00" fill="#222222"/>
<circle cx="515.8" cy="113.1" r="2.00" fill="#222222"/>
<circle cx="521.1" cy="113.1" r="2.00" fill="#222222"/>
<circle cx="528.4" cy="113.1" r="2.00" fill="#222222"/>
<circle cx="532.4" cy="113.1" r="2.00" fill="#222222"/>
<circle cx="537.2" cy="113.1" r="2.00" fill="#222222"/>
<circle cx="557.4" cy="113.1" r="2.00" fill="#222222"/>
<circle cx="564.2" cy="113.1" r="2.00" fill="#222222"/>
<circle cx="569.3" cy="113.1" r="2.00" fill="#222222"/>
<circle cx="487.2" cy="116.6" r="2.00" fill="#262626"/>
<circle cx="518.2" cy="116.6" r="2.00" fill="#262626"/>
<circle cx="524.8" cy="116.6" r="2.00" fill="#262626"/>
<circle cx="566.3" cy="116.6" r="2.00" fill="#262626"/>
<circle cx="568.8" cy="116.6" r="2.00" fill="#262626"/>
<circle cx="488.7" cy="120.1" r="2.00" fill="#2a2a2a"/>
<circle cx="505.6" cy="120.1" r="2.00" fill="#2a2a2a"/>
<circle cx="566.2" cy="120.1" r="2.00" fill="#2a2a2a"/>
<circle cx="484.5" cy="123.5" r="2.00" fill="#2d2d2d"/>
<circle cx="497.6" cy="123.5" r="2.00" fill="#2d2d2d"/>
<circle cx="491.5" cy="127.0" r="2.00" fill="#313131"/>
<circle cx="494.9" cy="127.0" r="2.00" fill="#313131"/>
<circle cx="501.2" cy="127.0" r="2.00" fill="#313131"/>
<circle cx="519.6" cy="127.0" r="2.00" fill="#313131"/>
<circle cx="528.0" cy="127.0" r="2.00" fill="#313131"/>
<circle cx="601.4" cy="36.7" r="2.00" fill="#181818"/>
<circle cx="603.9" cy="36.7" r="2.00" fill="#181818"/>
<circle cx="595.6" cy="40.2" r="2.00" fill="#191919"/>
<circle cx="599.7" cy="40.2" r="2.00" fill="#191919"/>
<circle cx="604.5" cy="40.2" r="2.00" fill="#191919"/>
<circle cx="609.0" cy="40.2" r="2.00" fill="#191919"/>
<circle cx="593.8" cy="43.7" r="2.00" fill="#191919"/>
<circle cx="598.2" cy="43.7" r="2.00" fill="#191919"/>
<circle cx="602.3" cy="43.7" r="2.00" fill="#191919"/>
<circle cx="605.9" cy="43.7" r="2.00" fill="#191919"/>
<circle cx="610.3" cy="43.7" r="2.00" fill="#191919"/>
<circle cx="614.1" cy="43.7" r="2.00" fill="#191919"/>
<circle cx="585.9" cy="47.1" r="2.00" fill="#191919"/>
<circle cx="590.7" cy="47.1" r="2.00" fill="#191919"/>
<circle cx="595.4" cy="47.1" r="2.00" fill="#191919"/>
<circle cx="602.0" cy="47.1" r="2.00" fill="#191919"/>
<circle cx="606.5" cy="47.1" r="2.00" fill="#191919"/>
<circle cx="610.8" cy="47.1" r="2.00" fill="#191919"/>
<circle cx="615.1" cy="47.1" r="2.00" fill="#191919"/>
<circle cx="644.8" cy="47.1" r="2.00" fill="#191919"/>
<circle cx="604.3" cy="50.6" r="2.00" fill="#191919"/>
<circle cx="609.3" cy="50.6" r="2.00" fill="#191919"/>
<circle cx="613.3" cy="50.6" r="2.00" fill="#191919"/>
<circle cx="618.4" cy="50.6" r="2.00" fill="#191919"/>
<circle cx="623.8" cy="50.6" r="2.00" fill="#191919"/>
<circle cx="629.6" cy="50.6" r="2.00" fill="#191919"/>
<circle cx="634.6" cy="50.6" r="2.00" fill="#191919"/>
<circle cx="638.9" cy="50.6" r="2.00" fill="#191919"/>
<circle cx="643.5" cy="50.6" r="2.00" fill="#191919"/>
<circle cx="648.3" cy="50.6" r="2.00" fill="#191919"/>
<circle cx="653.1" cy="50.6" r="2.00" fill="#191919"/>
<circle cx="614.1" cy="54.1" r="2.00" fill="#191919"/>
<circle cx="618.4" cy="54.1" r="2.00" fill="#191919"/>
<circle cx="622.6" cy="54.1" r="2.00" fill="#191919"/>
<circle cx="627.1" cy="54.1" r="2.00" fill="#191919"/>
<circle cx="630.9" cy="54.1" r="2.00" fill="#191919"/>
<circle cx="635.4" cy="54.1" r="2.00" fill="#191919"/>
<circle cx="639.4" cy="54.1" r="2.00" fill="#191919"/>
<circle cx="643.4" cy="54.1" r="2.00" fill="#191919"/>
<circle cx="649.3" cy="54.1" r="2.00" fill="#191919"/>
<circle cx="655.0" cy="54.1" r="2.00" fill="#191919"/>
<circle cx="623.8" cy="57.6" r="2.00" fill="#191919"/>
<circle cx="628.5" cy="57.6" r="2.00" fill="#191919"/>
<circle cx="633.1" cy="57.6" r="2.00" fill="#191919"/>
<circle cx="637.5" cy="57.6" r="2.00" fill="#191919"/>
<circle cx="642.4" cy="57.6" r="2.00" fill="#191919"/>
<circle cx="646.9" cy="57.6" r="2.00" fill="#191919"/>
<circle cx="651.3" cy="57.6" r="2.00" fill="#191919"/>
<circle cx="656.2" cy="57.6" r="2.00" fill="#191919"/>
<circle cx="620.9" cy="61.0" r="2.00" fill="#191919"/>
<circle cx="625.2" cy="61.0" r="2.00" fill="#191919"/>
<circle cx="629.4" cy="61.0" r="2.00" fill="#191919"/>
<circle cx="633.5" cy="61.0" r="2.00" fill="#191919"/>
<circle cx="637.4" cy="61.0" r="2.00" fill="#191919"/>
<circle cx="641.9" cy="61.0" r="2.00" fill="#191919"/>
<circle cx="645.9" cy="61.0" r="2.00" fill="#191919"/>
<circle cx="650.2" cy="61.0" r="2.00" fill="#191919"/>
<circle cx="654.2" cy="61.0" r="2.00" fill="#191919"/>
<circle cx="610.9" cy="64.5" r="2.00" fill="#191919"/>
<circle cx="615.7" cy="64.5" r="2.00" fill="#191919"/>
<circle cx="625.0" cy="64.5" r="2.00" fill="#191919"/>
<circle cx="630.9" cy="64.5" r="2.00" fill="#191919"/>
<circle cx="634.6" cy="64.5" r="2.00" fill="#191919"/>
<circle cx="640.1" cy="64.5" r="2.00" fill="#191919"/>
<circle cx="642.6" cy="64.5" r="2.00" fill="#191919"/>
<circle cx="646.3" cy="64.5" r="2.00" fill="#191919"/>
<circle cx="652.8" cy="64.5" r="2.00" fill="#191919"/>
<circle cx="580.0" cy="68.0" r="2.00" fill="#1a1a1a"/>
<circle cx="603.9" cy="68.0" r="2.00" fill="#1a1a1a"/>
<circle cx="612.0" cy="68.0" r="2.00" fill="#1a1a1a"/>
<circle cx="634.9" cy="68.0" r="2.00" fill="#1a1a1a"/>
<circle cx="639.4" cy="68.0" r="2.00" fill="#1a1a1a"/>
<circle cx="594.8" cy="71.4" r="2.00" fill="#1a1a1a"/>
<circle cx="602.4" cy="71.4" r="2.00" fill="#1a1a1a"/>
<circle cx="617.2" cy="71.4" r="2.00" fill="#1a1a1a"/>
<circle cx="629.8" cy="71.4" r="2.00" fill="#1a1a1a"/>
<circle cx="635.3" cy="71.4" r="2.00" fill="#1a1a1a"/>
<circle cx="639.1" cy="71.4" r="2.00" fill="#1a1a1a"/>
<circle cx="642.9" cy="71.4" r="2.00" fill="#1a1a1a"/>
<circle cx="584.2" cy="74.9" r="2.00" fill="#1a1a1a"/>
<circle cx="588.6" cy="74.9" r="2.00" fill="#1a1a1a"/>
<circle cx="593.2" cy="74.9" r="2.00" fill="#1a1a1a"/>
<circle cx="601.4" cy="74.9" r="2.00" fill="#1a1a1a"/>
<circle cx="605.5" cy="74.9" r="2.00" fill="#1a1a1a"/>
<circle cx="610.4" cy="74.9" r="2.00" fill="#1a1a1a"/>
<circle cx="614.8" cy="74.9" r="2.00" fill="#1a1a1a"/>
<circle cx="619.6" cy="74.9" r="2.00" fill="#1a1a1a"/>
<circle cx="634.5" cy="74.9" r="2.00" fill="#1a1a1a"/>
<circle cx="639.9" cy="74.9" r="2.00" fill="#1a1a1a"/>
<circle cx="581.7" cy="78.4" r="2.00" fill="#1a1a1a"/>
<circle cx="586.6" cy="78.4" r="2.00" fill="#1a1a1a"/>
<circle cx="591.6" cy="78.4" r="2.00" fill="#1a1a1a"/>
<circle cx="603.5" cy="78.4" r="2.00" fill="#1a1a1a"/>
<circle cx="607.1" cy="78.4" r="2.00" fill="#1a1a1a"/>
<circle cx="610.8" cy="78.4" r="2.00" fill="#1a1a1a"/>
<circle cx="615.1" cy="78.4" r="2.00" fill="#1a1a1a"/>
<circle cx="618.6" cy="78.4" r="2.00" fill="#1a1a1a"/>
<circle cx="635.7" cy="78.4" r="2.00" fill="#1a1a1a"/>
<circle cx="642.1" cy="78.4" r="2.00" fill="#1a1a1a"/>
<circle cx="582.8" cy="81.9" r="2.00" fill="#1b1b1b"/>
<circle cx="586.8" cy="81.9" r="2.00" fill="#1b1b1b"/>
<circle cx="590.3" cy="81.9" r="2.00" fill="#1b1b1b"/>
<circle cx="599.9" cy="81.9" r="2.00" fill="#1b1b1b"/>
<circle cx="616.0" cy="81.9" r="2.00" fill="#1b1b1b"/>
<circle cx="635.3" cy="81.9" r="2.00" fill="#1b1b1b"/>
<circle cx="580.2" cy="85.3" r="2.00" fill="#1c1c1c"/>
<circle cx="585.0" cy="85.3" r="2.00" fill="#1c1c1c"/>
<circle cx="590.0" cy="85.3" r="2.00" fill="#1c1c1c"/>
<circle cx="599.4" cy="85.3" r="2.00" fill="#1c1c1c"/>
<circle cx="604.3" cy="85.3" r="2.00" fill="#1c1c1c"/>
<circle cx="609.5" cy="85.3" r="2.00" fill="#1c1c1c"/>
<circle cx="635.3" cy="85.3" r="2.00" fill="#1c1c1c"/>
<circle cx="589.0" cy="88.8" r="2.00" fill="#1c1c1c"/>
<circle cx="593.0" cy="88.8" r="2.00" fill="#1c1c1c"/>
<circle cx="596.9" cy="88.8" r="2.00" fill="#1c1c1c"/>
<circle cx="601.5" cy="88.8" r="2.00" fill="#1c1c1c"/>
<circle cx="605.7" cy="88.8" r="2.00" fill="#1c1c1c"/>
<circle cx="609.5" cy="88.8" r="2.00" fill="#1c1c1c"/>
<circle cx="613.9" cy="88.8" r="2.00" fill="#1c1c1c"/>
<circle cx="618.4" cy="88.8" r="2.00" fill="#1c1c1c"/>
<circle cx="622.4" cy="88.8" r="2.00" fill="#1c1c1c"/>
<circle cx="627.6" cy="88.8" r="2.00" fill="#1c1c1c"/>
<circle cx="635.1" cy="88.8" r="2.00" fill="#1c1c1c"/>
<circle cx="581.7" cy="92.3" r="2.00" fill="#1d1d1d"/>
<circle cx="587.4" cy="92.3" r="2.00" fill="#1d1d1d"/>
<circle cx="592.1" cy="92.3" r="2.00" fill="#1d1d1d"/>
<circle cx="596.4" cy="92.3" r="2.00" fill="#1d1d1d"/>
<circle cx="600.9" cy="92.3" r="2.00" fill="#1d1d1d"/>
<circle cx="605.9" cy="92.3" r="2.00" fill="#1d1d1d"/>
<circle cx="610.0" cy="92.3" r="2.00" fill="#1d1d1d"/>
<circle cx="614.6" cy="92.3" r="2.00" fill="#1d1d1d"/>
<circle cx="619.3" cy="92.3" r="2.00" fill="#1d1d1d"/>
<circle cx="585.8" cy="95.8" r="2.00" fill="#1e1e1e"/>
<circle cx="590.1" cy="95.8" r="2.00" fill="#1e1e1e"/>
<circle cx="594.5" cy="95.8" r="2.00" fill="#1e1e1e"/>
<circle cx="599.2" cy="95.8" r="2.00" fill="#1e1e1e"/>
<circle cx="603.3" cy="95.8" r="2.00" fill="#1e1e1e"/>
<circle cx="608.0" cy="95.8" r="2.00" fill="#1e1e1e"/>
<circle cx="612.0" cy="95.8" r="2.00" fill="#1e1e1e"/>
<circle cx="616.3" cy="95.8" r="2.00" fill="#1e1e1e"/>
<circle cx="582.7" cy="99.2" r="2.00" fill="#1f1f1f"/>
<circle cx="587.8" cy="99.2" r="2.00" fill="#1f1f1f"/>
<circle cx="591.9" cy="99.2" r="2.00" fill="#1f1f1f"/>
<circle cx="596.9" cy="99.2" r="2.00" fill="#1f1f1f"/>
<circle cx="601.0" cy="99.2" r="2.00" fill="#1f1f1f"/>
<circle cx="605.8" cy="99.2" r="2.00" fill="#1f1f1f"/>
<circle cx="610.5" cy="99.2" r="2.00" fill="#1f1f1f"/>
<circle cx="615.1" cy="99.2" r="2.00" fill="#1f1f1f"/>
<circle cx="580.1" cy="102.7" r="2.00" fill="#202020"/>
<circle cx="584.3" cy="102.7" r="2.00" fill="#202020"/>
<circle cx="588.3" cy="102.7" r="2.00" fill="#202020"/>
<circle cx="592.3" cy="102.7" r="2.00" fill="#202020"/>
<circle cx="596.8" cy="102.7" r="2.00" fill="#202020"/>
<circle cx="600.8" cy="102.7" r="2.00" fill="#202020"/>
<circle cx="605.3" cy="102.7" r="2.00" fill="#202020"/>
<circle cx="609.1" cy="102.7" r="2.00" fill="#202020"/>
<circle cx="613.6" cy="102.7" r="2.00" fill="#202020"/>
<circle cx="579.8" cy="106.2" r="2.00" fill="#202020"/>
<circle cx="584.5" cy="106.2" r="2.00" fill="#202020"/>
<circle cx="588.5" cy="106.2" r="2.00" fill="#202020"/>
<circle cx="592.7" cy="106.2" r="2.00" fill="#202020"/>
<circle cx="597.4" cy="106.2" r="2.00" fill="#202020"/>
<circle cx="601.6" cy="106.2" r="2.00" fill="#202020"/>
<circle cx="605.9" cy="106.2" r="2.00" fill="#202020"/>
<circle cx="609.9" cy="106.2" r="2.00" fill="#202020"/>
<circle cx="614.4" cy="106.2" r="2.00" fill="#202020"/>
<circle cx="580.1" cy="109.7" r="2.00" fill="#212121"/>
<circle cx="584.4" cy="109.7" r="2.00" fill="#212121"/>
<circle cx="588.9" cy="109.7" r="2.00" fill="#212121"/>
<circle cx="593.4" cy="109.7" r="2.00" fill="#212121"/>
<circle cx="597.4" cy="109.7" r="2.00" fill="#212121"/>
<circle cx="601.7" cy="109.7" r="2.00" fill="#212121"/>
<circle cx="606.0" cy="109.7" r="2.00" fill="#212121"/>
<circle cx="610.5" cy="109.7" r="2.00" fill="#212121"/>
<circle cx="614.8" cy="109.7" r="2.00" fill="#212121"/>
</g>
<line x1="241.7" y1="373" x2="655.8" y2="58" stroke="#231f20" stroke-width="2.3"/>
<rect x="93" y="25.05" width="587.8" height="349.05" fill="none" stroke="#231f20" stroke-width="2.3"/>
<line x1="94.2" y1="374" x2="94.2" y2="381" stroke="#231f20" stroke-width="1.3"/>
<text x="94.2" y="403.7" font-size="19.5" text-anchor="middle">0</text>
<line x1="86.2" y1="373.3" x2="93" y2="373.3" stroke="#231f20" stroke-width="1.3"/>
<text x="82.8" y="380.2" font-size="19.5" text-anchor="end">0</text>
<line x1="211.2" y1="374" x2="211.2" y2="381" stroke="#231f20" stroke-width="1.3"/>
<text x="211.2" y="403.7" font-size="19.5" text-anchor="middle">0.2</text>
<line x1="86.2" y1="303.8" x2="93" y2="303.8" stroke="#231f20" stroke-width="1.3"/>
<text x="82.8" y="310.7" font-size="19.5" text-anchor="end">0.2</text>
<line x1="328.3" y1="374" x2="328.3" y2="381" stroke="#231f20" stroke-width="1.3"/>
<text x="328.3" y="403.7" font-size="19.5" text-anchor="middle">0.4</text>
<line x1="86.2" y1="234.4" x2="93" y2="234.4" stroke="#231f20" stroke-width="1.3"/>
<text x="82.8" y="241.3" font-size="19.5" text-anchor="end">0.4</text>
<line x1="445.3" y1="374" x2="445.3" y2="381" stroke="#231f20" stroke-width="1.3"/>
<text x="445.3" y="403.7" font-size="19.5" text-anchor="middle">0.6</text>
<line x1="86.2" y1="164.9" x2="93" y2="164.9" stroke="#231f20" stroke-width="1.3"/>
<text x="82.8" y="171.8" font-size="19.5" text-anchor="end">0.6</text>
<line x1="562.4" y1="374" x2="562.4" y2="381" stroke="#231f20" stroke-width="1.3"/>
<text x="562.4" y="403.7" font-size="19.5" text-anchor="middle">0.8</text>
<line x1="86.2" y1="95.5" x2="93" y2="95.5" stroke="#231f20" stroke-width="1.3"/>
<text x="82.8" y="102.4" font-size="19.5" text-anchor="end">0.8</text>
<line x1="679.4" y1="374" x2="679.4" y2="381" stroke="#231f20" stroke-width="1.3"/>
<text x="679.4" y="403.7" font-size="19.5" text-anchor="middle">1</text>
<line x1="86.2" y1="26.0" x2="93" y2="26.0" stroke="#231f20" stroke-width="1.3"/>
<text x="82.8" y="32.9" font-size="19.5" text-anchor="end">1</text>
<text x="386.5" y="441" font-size="23.85" text-anchor="middle">AF2 model confidence score</text>
<text transform="translate(29.2,199.3) rotate(-90)" font-size="23.7" text-anchor="middle">DockQ Score</text>
<rect x="109.1" y="38.65" width="13.3" height="13" fill="#231f20" stroke="#231f20" stroke-width="0.9"/>
<text x="136.8" y="52.55" font-size="19.7">High</text>
<rect x="109.1" y="68.55" width="13.3" height="13" fill="#414042" stroke="#231f20" stroke-width="0.9"/>
<text x="136.8" y="82.45" font-size="19.7">Medium</text>
<rect x="109.1" y="98.85" width="13.3" height="13" fill="#a7a9ac" stroke="#231f20" stroke-width="0.9"/>
<text x="136.8" y="112.75" font-size="19.7">Acceptable</text>
<rect x="109.1" y="128.95" width="13.3" height="13" fill="#ffffff" stroke="#231f20" stroke-width="0.9"/>
<text x="136.8" y="142.85" font-size="19.7">Incorrect</text>
<line x1="447.1" y1="505.0" x2="447.1" y2="853.5" stroke="#8a8a8a" stroke-width="0.8" stroke-dasharray="1.4,1"/>
<g stroke="#2c2c2e" stroke-width="1">
<line x1="531.3" y1="549.3" x2="557.9" y2="549.3"/>
<line x1="531.3" y1="538.5999999999999" x2="531.3" y2="560.0"/>
<line x1="557.9" y1="538.5999999999999" x2="557.9" y2="560.0"/>
<rect x="540.8" y="528.0" width="8.100000000000023" height="42.6" fill="#231f20"/>
</g>
<circle cx="488.5" cy="549.3" r="2.1" fill="#231f20"/>
<circle cx="490.5" cy="549.3" r="2.1" fill="#231f20"/>
<circle cx="492.5" cy="549.3" r="2.1" fill="#231f20"/>
<circle cx="495" cy="549.3" r="2.1" fill="#231f20"/>
<circle cx="497.5" cy="549.3" r="2.1" fill="#231f20"/>
<circle cx="499.5" cy="549.3" r="2.1" fill="#231f20"/>
<circle cx="501.5" cy="549.3" r="2.1" fill="#231f20"/>
<circle cx="512.5" cy="549.3" r="2.1" fill="#231f20"/>
<circle cx="571.7" cy="549.3" r="2.1" fill="#231f20"/>
<circle cx="573.5" cy="549.3" r="2.1" fill="#231f20"/>
<circle cx="576" cy="549.3" r="2.1" fill="#231f20"/>
<circle cx="578" cy="549.3" r="2.1" fill="#231f20"/>
<circle cx="580.2" cy="549.3" r="2.1" fill="#231f20"/>
<text x="154.9" y="557.0" font-size="19.5" text-anchor="end">High</text>
<g stroke="#2c2c2e" stroke-width="1">
<line x1="420.5" y1="636.3" x2="583.5" y2="636.3"/>
<line x1="420.5" y1="625.5999999999999" x2="420.5" y2="647.0"/>
<line x1="583.5" y1="625.5999999999999" x2="583.5" y2="647.0"/>
<rect x="503" y="615.0" width="55.5" height="42.6" fill="#414042"/>
<line x1="540" y1="615.0" x2="540" y2="657.5999999999999"/>
</g>
<circle cx="325.2" cy="636.3" r="2.1" fill="#231f20"/>
<circle cx="334.1" cy="636.3" r="2.1" fill="#231f20"/>
<circle cx="336.9" cy="636.3" r="2.1" fill="#231f20"/>
<circle cx="339.7" cy="636.3" r="2.1" fill="#231f20"/>
<circle cx="342.5" cy="636.3" r="2.1" fill="#231f20"/>
<circle cx="345.3" cy="636.3" r="2.1" fill="#231f20"/>
<circle cx="347.4" cy="636.3" r="2.1" fill="#231f20"/>
<circle cx="356.5" cy="636.3" r="2.1" fill="#231f20"/>
<circle cx="369.8" cy="636.3" r="2.1" fill="#231f20"/>
<circle cx="374.3" cy="636.3" r="2.1" fill="#231f20"/>
<circle cx="380.1" cy="636.3" r="2.1" fill="#231f20"/>
<circle cx="407.2" cy="636.3" r="2.1" fill="#231f20"/>
<circle cx="415.6" cy="636.3" r="2.1" fill="#231f20"/>
<text x="154.9" y="644.0" font-size="19.5" text-anchor="end">Medium</text>
<g stroke="#2c2c2e" stroke-width="1">
<line x1="322.5" y1="722.7" x2="564" y2="722.7"/>
<line x1="322.5" y1="712.0" x2="322.5" y2="733.4000000000001"/>
<line x1="564" y1="712.0" x2="564" y2="733.4000000000001"/>
<rect x="441.5" y="701.4000000000001" width="81.5" height="42.6" fill="#a7a9ac"/>
<line x1="487.5" y1="701.4000000000001" x2="487.5" y2="744.0"/>
</g>
<circle cx="296" cy="722.7" r="2.1" fill="#231f20"/>
<circle cx="298.8" cy="722.7" r="2.1" fill="#231f20"/>
<circle cx="301.6" cy="722.7" r="2.1" fill="#231f20"/>
<circle cx="304.4" cy="722.7" r="2.1" fill="#231f20"/>
<circle cx="307" cy="722.7" r="2.1" fill="#231f20"/>
<circle cx="316.8" cy="722.7" r="2.1" fill="#231f20"/>
<circle cx="319.4" cy="722.7" r="2.1" fill="#231f20"/>
<text x="154.9" y="730.4" font-size="19.5" text-anchor="end">Acceptable</text>
<g stroke="#2c2c2e" stroke-width="1">
<line x1="226.8" y1="809.8" x2="517" y2="809.8"/>
<line x1="226.8" y1="799.0999999999999" x2="226.8" y2="820.5"/>
<line x1="517" y1="799.0999999999999" x2="517" y2="820.5"/>
<rect x="297.8" y="788.5" width="89.09999999999997" height="42.6" fill="#ffffff"/>
<line x1="334.7" y1="788.5" x2="334.7" y2="831.0999999999999"/>
</g>
<circle cx="533" cy="809.8" r="2.1" fill="#231f20"/>
<circle cx="542" cy="809.8" r="2.1" fill="#231f20"/>
<text x="154.9" y="817.5" font-size="19.5" text-anchor="end">Incorrect</text>
<rect x="160.3" y="504.9" width="442.7" height="348.6" fill="none" stroke="#231f20" stroke-width="2.1"/>
<line x1="153.5" y1="505.9" x2="160.3" y2="505.9" stroke="#231f20" stroke-width="1.2"/>
<line x1="153.5" y1="592.8" x2="160.3" y2="592.8" stroke="#231f20" stroke-width="1.2"/>
<line x1="153.5" y1="679.7" x2="160.3" y2="679.7" stroke="#231f20" stroke-width="1.2"/>
<line x1="153.5" y1="766.6" x2="160.3" y2="766.6" stroke="#231f20" stroke-width="1.2"/>
<line x1="153.5" y1="853.5" x2="160.3" y2="853.5" stroke="#231f20" stroke-width="1.2"/>
<line x1="161.2" y1="853.5" x2="161.2" y2="860.5" stroke="#231f20" stroke-width="1.2"/>
<text x="161.2" y="883.7" font-size="19" text-anchor="middle">0</text>
<line x1="249.3" y1="853.5" x2="249.3" y2="860.5" stroke="#231f20" stroke-width="1.2"/>
<text x="249.3" y="883.7" font-size="19" text-anchor="middle">0.2</text>
<line x1="337.4" y1="853.5" x2="337.4" y2="860.5" stroke="#231f20" stroke-width="1.2"/>
<text x="337.4" y="883.7" font-size="19" text-anchor="middle">0.4</text>
<line x1="425.4" y1="853.5" x2="425.4" y2="860.5" stroke="#231f20" stroke-width="1.2"/>
<text x="425.4" y="883.7" font-size="19" text-anchor="middle">0.6</text>
<line x1="513.5" y1="853.5" x2="513.5" y2="860.5" stroke="#231f20" stroke-width="1.2"/>
<text x="513.5" y="883.7" font-size="19" text-anchor="middle">0.8</text>
<line x1="601.6" y1="853.5" x2="601.6" y2="860.5" stroke="#231f20" stroke-width="1.2"/>
<text x="601.6" y="883.7" font-size="19" text-anchor="middle">1</text>
<text transform="translate(453.3,876.3) rotate(-90)" font-size="15" text-anchor="middle">0.65</text>
<text x="382" y="920.8" font-size="23.85" text-anchor="middle">AF2 model confidence score</text>
<text transform="translate(34.2,679.3) rotate(-90)" font-size="23.7" text-anchor="middle">CAPRI Peptide Rank</text>
</svg></body></html>
